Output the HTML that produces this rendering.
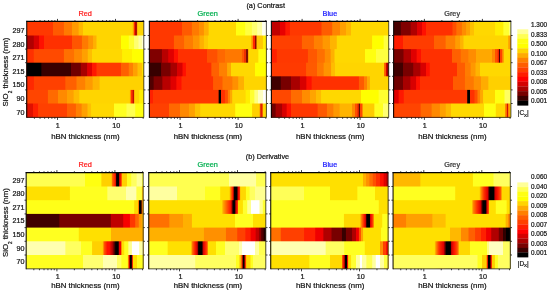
<!DOCTYPE html><html><head><meta charset="utf-8"><title>Contrast and Derivative</title>
<style>html,body{margin:0;padding:0;background:#fff}svg{display:block}text{font-family:"Liberation Sans",sans-serif;font-size:7.2px;color:#151515;fill:currentColor;stroke:currentColor;stroke-width:.22px}.l{font-size:7.85px}.h{font-size:7.3px}.c{font-size:6.4px}</style></head><body>
<svg width="550" height="293" viewBox="0 0 550 293">
<rect width="550" height="293" fill="#fff"/>
<linearGradient id="ga00" gradientUnits="userSpaceOnUse" x1="26.80" y1="0" x2="143.90" y2="0"><stop offset="0.0030" stop-color="#ff3800"/><stop offset="0.2199" stop-color="#ff3800"/><stop offset="0.2259" stop-color="#ff5a00"/><stop offset="0.3130" stop-color="#ff5a00"/><stop offset="0.3190" stop-color="#ff7a00"/><stop offset="0.3830" stop-color="#ff7a00"/><stop offset="0.3890" stop-color="#ff9a00"/><stop offset="0.4394" stop-color="#ff9a00"/><stop offset="0.4453" stop-color="#ffb800"/><stop offset="0.4761" stop-color="#ffb800"/><stop offset="0.4821" stop-color="#ffd500"/><stop offset="0.9014" stop-color="#ffd500"/><stop offset="0.9073" stop-color="#ff9800"/><stop offset="0.9125" stop-color="#ff9800"/><stop offset="0.9184" stop-color="#ff2800"/><stop offset="0.9227" stop-color="#ff2800"/><stop offset="0.9287" stop-color="#b00800"/><stop offset="0.9364" stop-color="#b00800"/><stop offset="0.9421" stop-color="#ffa000"/><stop offset="0.9427" stop-color="#ffa000"/><stop offset="0.9483" stop-color="#ffd500"/><stop offset="0.9970" stop-color="#ffd500"/></linearGradient>
<rect x="26.80" y="21.40" width="117.10" height="96.00" fill="url(#ga00)"/>
<linearGradient id="ga01" gradientUnits="userSpaceOnUse" x1="26.80" y1="0" x2="143.90" y2="0"><stop offset="0.0030" stop-color="#b00000"/><stop offset="0.0559" stop-color="#b00000"/><stop offset="0.0619" stop-color="#d80000"/><stop offset="0.1029" stop-color="#d80000"/><stop offset="0.1089" stop-color="#ff1000"/><stop offset="0.1447" stop-color="#ff1000"/><stop offset="0.1507" stop-color="#ff3000"/><stop offset="0.3830" stop-color="#ff3000"/><stop offset="0.3890" stop-color="#ff5500"/><stop offset="0.4667" stop-color="#ff5500"/><stop offset="0.4727" stop-color="#ff7a00"/><stop offset="0.5222" stop-color="#ff7a00"/><stop offset="0.5282" stop-color="#ff9500"/><stop offset="0.5640" stop-color="#ff9500"/><stop offset="0.5700" stop-color="#ffb000"/><stop offset="0.5922" stop-color="#ffb000"/><stop offset="0.5982" stop-color="#ffd500"/><stop offset="0.8015" stop-color="#ffd500"/><stop offset="0.8074" stop-color="#ffff00"/><stop offset="0.8672" stop-color="#ffff00"/><stop offset="0.8732" stop-color="#ffff30"/><stop offset="0.9142" stop-color="#ffff30"/><stop offset="0.9202" stop-color="#ffff70"/><stop offset="0.9509" stop-color="#ffff70"/><stop offset="0.9569" stop-color="#ffffa0"/><stop offset="0.9791" stop-color="#ffffa0"/><stop offset="0.9851" stop-color="#ffffd0"/><stop offset="0.9970" stop-color="#ffffd0"/></linearGradient>
<rect x="26.80" y="35.50" width="117.10" height="81.90" fill="url(#ga01)"/>
<linearGradient id="ga02" gradientUnits="userSpaceOnUse" x1="26.80" y1="0" x2="143.90" y2="0"><stop offset="0.0030" stop-color="#ff3000"/><stop offset="0.0559" stop-color="#ff3000"/><stop offset="0.0619" stop-color="#ff4a00"/><stop offset="0.3130" stop-color="#ff4a00"/><stop offset="0.3190" stop-color="#ff7000"/><stop offset="0.4018" stop-color="#ff7000"/><stop offset="0.4078" stop-color="#ff8800"/><stop offset="0.4667" stop-color="#ff8800"/><stop offset="0.4727" stop-color="#ffa000"/><stop offset="0.5171" stop-color="#ffa000"/><stop offset="0.5231" stop-color="#ffbe00"/><stop offset="0.5547" stop-color="#ffbe00"/><stop offset="0.5606" stop-color="#ffd800"/><stop offset="0.8117" stop-color="#ffd800"/><stop offset="0.8177" stop-color="#fff000"/><stop offset="0.8954" stop-color="#fff000"/><stop offset="0.9014" stop-color="#ffff00"/><stop offset="0.9970" stop-color="#ffff00"/></linearGradient>
<rect x="26.80" y="49.10" width="117.10" height="68.30" fill="url(#ga02)"/>
<linearGradient id="ga03" gradientUnits="userSpaceOnUse" x1="26.80" y1="0" x2="143.90" y2="0"><stop offset="0.0030" stop-color="#000000"/><stop offset="0.1217" stop-color="#000000"/><stop offset="0.1277" stop-color="#3a0000"/><stop offset="0.3736" stop-color="#3a0000"/><stop offset="0.3796" stop-color="#700000"/><stop offset="0.4573" stop-color="#700000"/><stop offset="0.4633" stop-color="#a80000"/><stop offset="0.5128" stop-color="#a80000"/><stop offset="0.5188" stop-color="#e00000"/><stop offset="0.5547" stop-color="#e00000"/><stop offset="0.5606" stop-color="#ff1800"/><stop offset="0.5922" stop-color="#ff1800"/><stop offset="0.5982" stop-color="#ff3a00"/><stop offset="0.8015" stop-color="#ff3a00"/><stop offset="0.8074" stop-color="#ff6000"/><stop offset="0.8672" stop-color="#ff6000"/><stop offset="0.8732" stop-color="#ff8000"/><stop offset="0.9039" stop-color="#ff8000"/><stop offset="0.9099" stop-color="#ffa000"/><stop offset="0.9424" stop-color="#ffa000"/><stop offset="0.9483" stop-color="#ffc000"/><stop offset="0.9791" stop-color="#ffc000"/><stop offset="0.9851" stop-color="#ffe000"/><stop offset="0.9970" stop-color="#ffe000"/></linearGradient>
<rect x="26.80" y="62.70" width="117.10" height="54.70" fill="url(#ga03)"/>
<linearGradient id="ga04" gradientUnits="userSpaceOnUse" x1="26.80" y1="0" x2="143.90" y2="0"><stop offset="0.0030" stop-color="#ff2800"/><stop offset="0.0568" stop-color="#ff2800"/><stop offset="0.0628" stop-color="#ff4000"/><stop offset="0.3266" stop-color="#ff4000"/><stop offset="0.3326" stop-color="#ff6000"/><stop offset="0.4214" stop-color="#ff6000"/><stop offset="0.4274" stop-color="#ff8000"/><stop offset="0.4966" stop-color="#ff8000"/><stop offset="0.5026" stop-color="#ff9a00"/><stop offset="0.5589" stop-color="#ff9a00"/><stop offset="0.5649" stop-color="#ffb400"/><stop offset="0.6187" stop-color="#ffb400"/><stop offset="0.6247" stop-color="#ffd200"/><stop offset="0.9970" stop-color="#ffd200"/></linearGradient>
<rect x="26.80" y="76.30" width="117.10" height="41.10" fill="url(#ga04)"/>
<linearGradient id="ga05" gradientUnits="userSpaceOnUse" x1="26.80" y1="0" x2="143.90" y2="0"><stop offset="0.0030" stop-color="#ff4500"/><stop offset="0.1763" stop-color="#ff4500"/><stop offset="0.1823" stop-color="#ff6a00"/><stop offset="0.2635" stop-color="#ff6a00"/><stop offset="0.2694" stop-color="#ff8a00"/><stop offset="0.3395" stop-color="#ff8a00"/><stop offset="0.3454" stop-color="#ffa000"/><stop offset="0.3967" stop-color="#ffa000"/><stop offset="0.4026" stop-color="#ffba00"/><stop offset="0.4462" stop-color="#ffba00"/><stop offset="0.4522" stop-color="#ffd500"/><stop offset="0.8766" stop-color="#ffd500"/><stop offset="0.8826" stop-color="#ff9000"/><stop offset="0.8868" stop-color="#ff9000"/><stop offset="0.8928" stop-color="#ff3000"/><stop offset="0.9005" stop-color="#ff3000"/><stop offset="0.9065" stop-color="#c01000"/><stop offset="0.9116" stop-color="#c01000"/><stop offset="0.9169" stop-color="#ffa000"/><stop offset="0.9174" stop-color="#ffa000"/><stop offset="0.9227" stop-color="#ffd500"/><stop offset="0.9577" stop-color="#ffd500"/><stop offset="0.9637" stop-color="#ffee00"/><stop offset="0.9970" stop-color="#ffee00"/></linearGradient>
<rect x="26.80" y="89.90" width="117.10" height="27.50" fill="url(#ga05)"/>
<linearGradient id="ga06" gradientUnits="userSpaceOnUse" x1="26.80" y1="0" x2="143.90" y2="0"><stop offset="0.0030" stop-color="#e01000"/><stop offset="0.0508" stop-color="#e01000"/><stop offset="0.0568" stop-color="#ff2000"/><stop offset="0.0944" stop-color="#ff2000"/><stop offset="0.1003" stop-color="#ff4000"/><stop offset="0.3395" stop-color="#ff4000"/><stop offset="0.3454" stop-color="#ff6000"/><stop offset="0.4155" stop-color="#ff6000"/><stop offset="0.4214" stop-color="#ff8000"/><stop offset="0.4650" stop-color="#ff8000"/><stop offset="0.4710" stop-color="#ffa000"/><stop offset="0.5154" stop-color="#ffa000"/><stop offset="0.5213" stop-color="#ffc000"/><stop offset="0.5470" stop-color="#ffc000"/><stop offset="0.5529" stop-color="#ffd800"/><stop offset="0.7417" stop-color="#ffd800"/><stop offset="0.7477" stop-color="#ffff20"/><stop offset="0.8484" stop-color="#ffff20"/><stop offset="0.8544" stop-color="#ffff50"/><stop offset="0.9236" stop-color="#ffff50"/><stop offset="0.9295" stop-color="#ffff10"/><stop offset="0.9970" stop-color="#ffff10"/></linearGradient>
<rect x="26.80" y="103.50" width="117.10" height="13.90" fill="url(#ga06)"/>
<path d="M26.80 117.40H143.80V21.40" fill="none" stroke="#222" stroke-width="0.8"/>
<path d="M26.75 117.80V20.85" fill="none" stroke="#000" stroke-width="1.0"/>
<path d="M26.30 21.40H144.20" fill="none" stroke="#000" stroke-width="1.15"/>
<path d="M34.42 21.40v-1.40M34.42 117.40v1.40M40.04 21.40v-1.40M40.04 117.40v1.40M44.63 21.40v-1.40M44.63 117.40v1.40M48.52 21.40v-1.40M48.52 117.40v1.40M51.88 21.40v-1.40M51.88 117.40v1.40M54.85 21.40v-1.40M54.85 117.40v1.40M57.50 21.40v-2.50M57.50 117.40v2.50M74.96 21.40v-1.40M74.96 117.40v1.40M85.17 21.40v-1.40M85.17 117.40v1.40M92.42 21.40v-1.40M92.42 117.40v1.40M98.04 21.40v-1.40M98.04 117.40v1.40M102.63 21.40v-1.40M102.63 117.40v1.40M106.52 21.40v-1.40M106.52 117.40v1.40M109.88 21.40v-1.40M109.88 117.40v1.40M112.85 21.40v-1.40M112.85 117.40v1.40M115.50 21.40v-2.50M115.50 117.40v2.50M132.96 21.40v-1.40M132.96 117.40v1.40M143.17 21.40v-1.40M143.17 117.40v1.40M26.80 35.50h-1.7M143.90 35.50h1.6M26.80 49.10h-1.7M143.90 49.10h1.6M26.80 62.70h-1.7M143.90 62.70h1.6M26.80 76.30h-1.7M143.90 76.30h1.6M26.80 89.90h-1.7M143.90 89.90h1.6M26.80 103.50h-1.7M143.90 103.50h1.6" stroke="#111" stroke-width="0.8" fill="none"/>
<text x="57.80" y="128.10" text-anchor="middle" class="t">1</text>
<text x="116.20" y="128.10" text-anchor="middle" class="t">10</text>
<text x="85.35" y="138.60" text-anchor="middle" class="l">hBN thickness (nm)</text>
<text x="85.15" y="16.35" text-anchor="middle" class="h" style="color:#ff1a1a">Red</text>
<text x="24.50" y="33.05" text-anchor="end" class="t">297</text>
<text x="24.50" y="46.65" text-anchor="end" class="t">280</text>
<text x="24.50" y="60.25" text-anchor="end" class="t">271</text>
<text x="24.50" y="73.85" text-anchor="end" class="t">215</text>
<text x="24.50" y="87.45" text-anchor="end" class="t">150</text>
<text x="24.50" y="101.05" text-anchor="end" class="t">90</text>
<text x="24.50" y="114.65" text-anchor="end" class="t">70</text>
<linearGradient id="ga10" gradientUnits="userSpaceOnUse" x1="149.40" y1="0" x2="266.50" y2="0"><stop offset="0.0030" stop-color="#ff3800"/><stop offset="0.2754" stop-color="#ff3800"/><stop offset="0.2814" stop-color="#ff5a00"/><stop offset="0.3591" stop-color="#ff5a00"/><stop offset="0.3651" stop-color="#ff7a00"/><stop offset="0.4197" stop-color="#ff7a00"/><stop offset="0.4257" stop-color="#ff9000"/><stop offset="0.4616" stop-color="#ff9000"/><stop offset="0.4675" stop-color="#ffb000"/><stop offset="0.5026" stop-color="#ffb000"/><stop offset="0.5085" stop-color="#ffd800"/><stop offset="0.7365" stop-color="#ffd800"/><stop offset="0.7425" stop-color="#ffff10"/><stop offset="0.8160" stop-color="#ffff10"/><stop offset="0.8219" stop-color="#ffff40"/><stop offset="0.8715" stop-color="#ffff40"/><stop offset="0.8775" stop-color="#ffff70"/><stop offset="0.9184" stop-color="#ffff70"/><stop offset="0.9244" stop-color="#ffffa0"/><stop offset="0.9603" stop-color="#ffffa0"/><stop offset="0.9663" stop-color="#fffff0"/><stop offset="0.9970" stop-color="#fffff0"/></linearGradient>
<rect x="149.40" y="21.40" width="117.10" height="96.00" fill="url(#ga10)"/>
<linearGradient id="ga11" gradientUnits="userSpaceOnUse" x1="149.40" y1="0" x2="266.50" y2="0"><stop offset="0.0030" stop-color="#ff3800"/><stop offset="0.2054" stop-color="#ff3800"/><stop offset="0.2114" stop-color="#ff6000"/><stop offset="0.2942" stop-color="#ff6000"/><stop offset="0.3002" stop-color="#ff7c00"/><stop offset="0.3685" stop-color="#ff7c00"/><stop offset="0.3745" stop-color="#ff9400"/><stop offset="0.4249" stop-color="#ff9400"/><stop offset="0.4308" stop-color="#ffb000"/><stop offset="0.4616" stop-color="#ffb000"/><stop offset="0.4675" stop-color="#ffc800"/><stop offset="0.4974" stop-color="#ffc800"/><stop offset="0.5034" stop-color="#ffd800"/><stop offset="0.8681" stop-color="#ffd800"/><stop offset="0.8740" stop-color="#ff9000"/><stop offset="0.8817" stop-color="#ff9000"/><stop offset="0.8877" stop-color="#ff2800"/><stop offset="0.8980" stop-color="#ff2800"/><stop offset="0.9039" stop-color="#900800"/><stop offset="0.9116" stop-color="#900800"/><stop offset="0.9176" stop-color="#ffc800"/><stop offset="0.9654" stop-color="#ffc800"/><stop offset="0.9714" stop-color="#ffee00"/><stop offset="0.9970" stop-color="#ffee00"/></linearGradient>
<rect x="149.40" y="35.50" width="117.10" height="81.90" fill="url(#ga11)"/>
<linearGradient id="ga12" gradientUnits="userSpaceOnUse" x1="149.40" y1="0" x2="266.50" y2="0"><stop offset="0.0030" stop-color="#800000"/><stop offset="0.1029" stop-color="#800000"/><stop offset="0.1089" stop-color="#b80000"/><stop offset="0.1584" stop-color="#b80000"/><stop offset="0.1644" stop-color="#e00000"/><stop offset="0.2054" stop-color="#e00000"/><stop offset="0.2114" stop-color="#ff1000"/><stop offset="0.2421" stop-color="#ff1000"/><stop offset="0.2481" stop-color="#ff3000"/><stop offset="0.4889" stop-color="#ff3000"/><stop offset="0.4949" stop-color="#ff5000"/><stop offset="0.5777" stop-color="#ff5000"/><stop offset="0.5837" stop-color="#ff6800"/><stop offset="0.6426" stop-color="#ff6800"/><stop offset="0.6486" stop-color="#ff7800"/><stop offset="0.7861" stop-color="#ff7800"/><stop offset="0.7921" stop-color="#ff5800"/><stop offset="0.8049" stop-color="#ff5800"/><stop offset="0.8108" stop-color="#f03000"/><stop offset="0.8219" stop-color="#f03000"/><stop offset="0.8279" stop-color="#801000"/><stop offset="0.8382" stop-color="#801000"/><stop offset="0.8442" stop-color="#ffb000"/><stop offset="0.8476" stop-color="#ffb000"/><stop offset="0.8535" stop-color="#ffd800"/><stop offset="0.9278" stop-color="#ffd800"/><stop offset="0.9338" stop-color="#ffff10"/><stop offset="0.9970" stop-color="#ffff10"/></linearGradient>
<rect x="149.40" y="49.10" width="117.10" height="68.30" fill="url(#ga12)"/>
<linearGradient id="ga13" gradientUnits="userSpaceOnUse" x1="149.40" y1="0" x2="266.50" y2="0"><stop offset="0.0030" stop-color="#380000"/><stop offset="0.0978" stop-color="#380000"/><stop offset="0.1038" stop-color="#780000"/><stop offset="0.1772" stop-color="#780000"/><stop offset="0.1832" stop-color="#a80000"/><stop offset="0.2327" stop-color="#a80000"/><stop offset="0.2387" stop-color="#d80000"/><stop offset="0.2797" stop-color="#d80000"/><stop offset="0.2857" stop-color="#ff1000"/><stop offset="0.3079" stop-color="#ff1000"/><stop offset="0.3138" stop-color="#ff3000"/><stop offset="0.5265" stop-color="#ff3000"/><stop offset="0.5325" stop-color="#ff6000"/><stop offset="0.5914" stop-color="#ff6000"/><stop offset="0.5974" stop-color="#ff8000"/><stop offset="0.6614" stop-color="#ff8000"/><stop offset="0.6674" stop-color="#ffa800"/><stop offset="0.6939" stop-color="#ffa800"/><stop offset="0.6998" stop-color="#ffd800"/><stop offset="0.8997" stop-color="#ffd800"/><stop offset="0.9056" stop-color="#ffff00"/><stop offset="0.9970" stop-color="#ffff00"/></linearGradient>
<rect x="149.40" y="62.70" width="117.10" height="54.70" fill="url(#ga13)"/>
<linearGradient id="ga14" gradientUnits="userSpaceOnUse" x1="149.40" y1="0" x2="266.50" y2="0"><stop offset="0.0030" stop-color="#500000"/><stop offset="0.0329" stop-color="#500000"/><stop offset="0.0389" stop-color="#800000"/><stop offset="0.1080" stop-color="#800000"/><stop offset="0.1140" stop-color="#b80000"/><stop offset="0.1772" stop-color="#b80000"/><stop offset="0.1832" stop-color="#e00000"/><stop offset="0.2276" stop-color="#e00000"/><stop offset="0.2336" stop-color="#ff1000"/><stop offset="0.2711" stop-color="#ff1000"/><stop offset="0.2771" stop-color="#ff3000"/><stop offset="0.5418" stop-color="#ff3000"/><stop offset="0.5478" stop-color="#ff5a00"/><stop offset="0.6213" stop-color="#ff5a00"/><stop offset="0.6272" stop-color="#ff7800"/><stop offset="0.7058" stop-color="#ff7800"/><stop offset="0.7118" stop-color="#ff9000"/><stop offset="0.7562" stop-color="#ff9000"/><stop offset="0.7622" stop-color="#ffb000"/><stop offset="0.8057" stop-color="#ffb000"/><stop offset="0.8117" stop-color="#ffd500"/><stop offset="0.9970" stop-color="#ffd500"/></linearGradient>
<rect x="149.40" y="76.30" width="117.10" height="41.10" fill="url(#ga14)"/>
<linearGradient id="ga15" gradientUnits="userSpaceOnUse" x1="149.40" y1="0" x2="266.50" y2="0"><stop offset="0.0030" stop-color="#ff2000"/><stop offset="0.0269" stop-color="#ff2000"/><stop offset="0.0329" stop-color="#ff3800"/><stop offset="0.5880" stop-color="#ff3800"/><stop offset="0.5939" stop-color="#000000"/><stop offset="0.6085" stop-color="#000000"/><stop offset="0.6144" stop-color="#ff3000"/><stop offset="0.6409" stop-color="#ff3000"/><stop offset="0.6469" stop-color="#ff5000"/><stop offset="0.6665" stop-color="#ff5000"/><stop offset="0.6725" stop-color="#ff8000"/><stop offset="0.6853" stop-color="#ff8000"/><stop offset="0.6913" stop-color="#ffa800"/><stop offset="0.7050" stop-color="#ffa800"/><stop offset="0.7109" stop-color="#ffd800"/><stop offset="0.8185" stop-color="#ffd800"/><stop offset="0.8245" stop-color="#ffee00"/><stop offset="0.8561" stop-color="#ffee00"/><stop offset="0.8621" stop-color="#ffff30"/><stop offset="0.8937" stop-color="#ffff30"/><stop offset="0.8997" stop-color="#ffff80"/><stop offset="0.9244" stop-color="#ffff80"/><stop offset="0.9304" stop-color="#ffffc0"/><stop offset="0.9688" stop-color="#ffffc0"/><stop offset="0.9748" stop-color="#ffffff"/><stop offset="0.9970" stop-color="#ffffff"/></linearGradient>
<rect x="149.40" y="89.90" width="117.10" height="27.50" fill="url(#ga15)"/>
<linearGradient id="ga16" gradientUnits="userSpaceOnUse" x1="149.40" y1="0" x2="266.50" y2="0"><stop offset="0.0030" stop-color="#ff4000"/><stop offset="0.1644" stop-color="#ff4000"/><stop offset="0.1704" stop-color="#ff6800"/><stop offset="0.2583" stop-color="#ff6800"/><stop offset="0.2643" stop-color="#ff8800"/><stop offset="0.3343" stop-color="#ff8800"/><stop offset="0.3403" stop-color="#ffa000"/><stop offset="0.3847" stop-color="#ffa000"/><stop offset="0.3907" stop-color="#ffc000"/><stop offset="0.4317" stop-color="#ffc000"/><stop offset="0.4377" stop-color="#ffd800"/><stop offset="0.7306" stop-color="#ffd800"/><stop offset="0.7365" stop-color="#ffff10"/><stop offset="0.8749" stop-color="#ffff10"/><stop offset="0.8809" stop-color="#ffd000"/><stop offset="0.9381" stop-color="#ffd000"/><stop offset="0.9441" stop-color="#ff8000"/><stop offset="0.9449" stop-color="#ff8000"/><stop offset="0.9509" stop-color="#e02000"/><stop offset="0.9629" stop-color="#e02000"/><stop offset="0.9681" stop-color="#ff9000"/><stop offset="0.9687" stop-color="#ff9000"/><stop offset="0.9740" stop-color="#ffd800"/><stop offset="0.9970" stop-color="#ffd800"/></linearGradient>
<rect x="149.40" y="103.50" width="117.10" height="13.90" fill="url(#ga16)"/>
<path d="M149.40 117.40H266.40V21.40" fill="none" stroke="#222" stroke-width="0.8"/>
<path d="M149.35 117.80V20.85" fill="none" stroke="#000" stroke-width="1.0"/>
<path d="M148.90 21.40H266.80" fill="none" stroke="#000" stroke-width="1.15"/>
<path d="M157.02 21.40v-1.40M157.02 117.40v1.40M162.64 21.40v-1.40M162.64 117.40v1.40M167.23 21.40v-1.40M167.23 117.40v1.40M171.12 21.40v-1.40M171.12 117.40v1.40M174.48 21.40v-1.40M174.48 117.40v1.40M177.45 21.40v-1.40M177.45 117.40v1.40M180.10 21.40v-2.50M180.10 117.40v2.50M197.56 21.40v-1.40M197.56 117.40v1.40M207.77 21.40v-1.40M207.77 117.40v1.40M215.02 21.40v-1.40M215.02 117.40v1.40M220.64 21.40v-1.40M220.64 117.40v1.40M225.23 21.40v-1.40M225.23 117.40v1.40M229.12 21.40v-1.40M229.12 117.40v1.40M232.48 21.40v-1.40M232.48 117.40v1.40M235.45 21.40v-1.40M235.45 117.40v1.40M238.10 21.40v-2.50M238.10 117.40v2.50M255.56 21.40v-1.40M255.56 117.40v1.40M265.77 21.40v-1.40M265.77 117.40v1.40M149.40 35.50h-1.7M266.50 35.50h1.6M149.40 49.10h-1.7M266.50 49.10h1.6M149.40 62.70h-1.7M266.50 62.70h1.6M149.40 76.30h-1.7M266.50 76.30h1.6M149.40 89.90h-1.7M266.50 89.90h1.6M149.40 103.50h-1.7M266.50 103.50h1.6" stroke="#111" stroke-width="0.8" fill="none"/>
<text x="180.40" y="128.10" text-anchor="middle" class="t">1</text>
<text x="238.80" y="128.10" text-anchor="middle" class="t">10</text>
<text x="207.95" y="138.60" text-anchor="middle" class="l">hBN thickness (nm)</text>
<text x="207.75" y="16.35" text-anchor="middle" class="h" style="color:#00b050">Green</text>
<linearGradient id="ga20" gradientUnits="userSpaceOnUse" x1="271.40" y1="0" x2="388.80" y2="0"><stop offset="0.0030" stop-color="#c00000"/><stop offset="0.0694" stop-color="#c00000"/><stop offset="0.0754" stop-color="#e80000"/><stop offset="0.1163" stop-color="#e80000"/><stop offset="0.1222" stop-color="#ff1800"/><stop offset="0.1537" stop-color="#ff1800"/><stop offset="0.1597" stop-color="#ff3800"/><stop offset="0.4238" stop-color="#ff3800"/><stop offset="0.4297" stop-color="#ff5c00"/><stop offset="0.5158" stop-color="#ff5c00"/><stop offset="0.5217" stop-color="#ff8400"/><stop offset="0.5805" stop-color="#ff8400"/><stop offset="0.5865" stop-color="#ffa000"/><stop offset="0.6316" stop-color="#ffa000"/><stop offset="0.6376" stop-color="#ffb800"/><stop offset="0.6742" stop-color="#ffb800"/><stop offset="0.6802" stop-color="#ffd800"/><stop offset="0.9970" stop-color="#ffd800"/></linearGradient>
<rect x="271.40" y="21.40" width="117.40" height="96.00" fill="url(#ga20)"/>
<linearGradient id="ga21" gradientUnits="userSpaceOnUse" x1="271.40" y1="0" x2="388.80" y2="0"><stop offset="0.0030" stop-color="#ff4000"/><stop offset="0.2560" stop-color="#ff4000"/><stop offset="0.2619" stop-color="#ff6400"/><stop offset="0.3582" stop-color="#ff6400"/><stop offset="0.3641" stop-color="#ff8000"/><stop offset="0.4331" stop-color="#ff8000"/><stop offset="0.4391" stop-color="#ff9800"/><stop offset="0.4962" stop-color="#ff9800"/><stop offset="0.5021" stop-color="#ffb400"/><stop offset="0.5532" stop-color="#ffb400"/><stop offset="0.5592" stop-color="#ffd800"/><stop offset="0.8556" stop-color="#ffd800"/><stop offset="0.8616" stop-color="#ffff00"/><stop offset="0.9527" stop-color="#ffff00"/><stop offset="0.9587" stop-color="#ffff40"/><stop offset="0.9970" stop-color="#ffff40"/></linearGradient>
<rect x="271.40" y="35.50" width="117.40" height="81.90" fill="url(#ga21)"/>
<linearGradient id="ga22" gradientUnits="userSpaceOnUse" x1="271.40" y1="0" x2="388.80" y2="0"><stop offset="0.0030" stop-color="#ff2000"/><stop offset="0.0422" stop-color="#ff2000"/><stop offset="0.0481" stop-color="#ff3800"/><stop offset="0.3071" stop-color="#ff3800"/><stop offset="0.3130" stop-color="#ff5800"/><stop offset="0.3863" stop-color="#ff5800"/><stop offset="0.3922" stop-color="#ff7000"/><stop offset="0.4510" stop-color="#ff7000"/><stop offset="0.4570" stop-color="#ff8c00"/><stop offset="0.5013" stop-color="#ff8c00"/><stop offset="0.5072" stop-color="#ffb000"/><stop offset="0.5345" stop-color="#ffb000"/><stop offset="0.5405" stop-color="#ffd800"/><stop offset="0.7943" stop-color="#ffd800"/><stop offset="0.8003" stop-color="#ffff10"/><stop offset="0.8880" stop-color="#ffff10"/><stop offset="0.8940" stop-color="#ffff40"/><stop offset="0.9970" stop-color="#ffff40"/></linearGradient>
<rect x="271.40" y="49.10" width="117.40" height="68.30" fill="url(#ga22)"/>
<linearGradient id="ga23" gradientUnits="userSpaceOnUse" x1="271.40" y1="0" x2="388.80" y2="0"><stop offset="0.0030" stop-color="#ff3a00"/><stop offset="0.2934" stop-color="#ff3a00"/><stop offset="0.2994" stop-color="#ff5a00"/><stop offset="0.3863" stop-color="#ff5a00"/><stop offset="0.3922" stop-color="#ff7800"/><stop offset="0.4417" stop-color="#ff7800"/><stop offset="0.4476" stop-color="#ff9400"/><stop offset="0.5064" stop-color="#ff9400"/><stop offset="0.5124" stop-color="#ffbc00"/><stop offset="0.5388" stop-color="#ffbc00"/><stop offset="0.5447" stop-color="#ffd500"/><stop offset="0.9578" stop-color="#ffd500"/><stop offset="0.9638" stop-color="#ff6000"/><stop offset="0.9715" stop-color="#ff6000"/><stop offset="0.9774" stop-color="#d00000"/><stop offset="0.9859" stop-color="#d00000"/><stop offset="0.9919" stop-color="#600000"/><stop offset="0.9970" stop-color="#600000"/></linearGradient>
<rect x="271.40" y="62.70" width="117.40" height="54.70" fill="url(#ga23)"/>
<linearGradient id="ga24" gradientUnits="userSpaceOnUse" x1="271.40" y1="0" x2="388.80" y2="0"><stop offset="0.0030" stop-color="#400000"/><stop offset="0.0762" stop-color="#400000"/><stop offset="0.0822" stop-color="#780000"/><stop offset="0.1640" stop-color="#780000"/><stop offset="0.1699" stop-color="#a80000"/><stop offset="0.2389" stop-color="#a80000"/><stop offset="0.2449" stop-color="#d80000"/><stop offset="0.2951" stop-color="#d80000"/><stop offset="0.3011" stop-color="#ff1000"/><stop offset="0.3394" stop-color="#ff1000"/><stop offset="0.3454" stop-color="#ff3000"/><stop offset="0.7415" stop-color="#ff3000"/><stop offset="0.7474" stop-color="#ff5a00"/><stop offset="0.7849" stop-color="#ff5a00"/><stop offset="0.7909" stop-color="#ff8000"/><stop offset="0.8105" stop-color="#ff8000"/><stop offset="0.8164" stop-color="#ffaa00"/><stop offset="0.8352" stop-color="#ffaa00"/><stop offset="0.8411" stop-color="#ffd500"/><stop offset="0.9970" stop-color="#ffd500"/></linearGradient>
<rect x="271.40" y="76.30" width="117.40" height="41.10" fill="url(#ga24)"/>
<linearGradient id="ga25" gradientUnits="userSpaceOnUse" x1="271.40" y1="0" x2="388.80" y2="0"><stop offset="0.0030" stop-color="#ff4800"/><stop offset="0.1640" stop-color="#ff4800"/><stop offset="0.1699" stop-color="#ff6c00"/><stop offset="0.2577" stop-color="#ff6c00"/><stop offset="0.2636" stop-color="#ff8c00"/><stop offset="0.3267" stop-color="#ff8c00"/><stop offset="0.3326" stop-color="#ffa400"/><stop offset="0.3769" stop-color="#ffa400"/><stop offset="0.3829" stop-color="#ffbc00"/><stop offset="0.4212" stop-color="#ffbc00"/><stop offset="0.4272" stop-color="#ffd800"/><stop offset="0.7602" stop-color="#ffd800"/><stop offset="0.7662" stop-color="#ffff00"/><stop offset="0.9101" stop-color="#ffff00"/><stop offset="0.9161" stop-color="#ffff30"/><stop offset="0.9970" stop-color="#ffff30"/></linearGradient>
<rect x="271.40" y="89.90" width="117.40" height="27.50" fill="url(#ga25)"/>
<linearGradient id="ga26" gradientUnits="userSpaceOnUse" x1="271.40" y1="0" x2="388.80" y2="0"><stop offset="0.0030" stop-color="#700000"/><stop offset="0.0328" stop-color="#700000"/><stop offset="0.0388" stop-color="#a80000"/><stop offset="0.0890" stop-color="#a80000"/><stop offset="0.0950" stop-color="#d80000"/><stop offset="0.1265" stop-color="#d80000"/><stop offset="0.1325" stop-color="#ff1000"/><stop offset="0.1640" stop-color="#ff1000"/><stop offset="0.1699" stop-color="#ff3800"/><stop offset="0.3905" stop-color="#ff3800"/><stop offset="0.3965" stop-color="#ff5a00"/><stop offset="0.4689" stop-color="#ff5a00"/><stop offset="0.4749" stop-color="#ff7c00"/><stop offset="0.5251" stop-color="#ff7c00"/><stop offset="0.5311" stop-color="#ff9800"/><stop offset="0.5779" stop-color="#ff9800"/><stop offset="0.5839" stop-color="#ffb400"/><stop offset="0.6853" stop-color="#ffb400"/><stop offset="0.6912" stop-color="#ff8800"/><stop offset="0.7091" stop-color="#ff8800"/><stop offset="0.7151" stop-color="#ff5000"/><stop offset="0.7304" stop-color="#ff5000"/><stop offset="0.7364" stop-color="#e02000"/><stop offset="0.7415" stop-color="#e02000"/><stop offset="0.7474" stop-color="#581000"/><stop offset="0.7526" stop-color="#581000"/><stop offset="0.7585" stop-color="#ff4800"/><stop offset="0.7730" stop-color="#ff4800"/><stop offset="0.7790" stop-color="#ffcc00"/><stop offset="0.8744" stop-color="#ffcc00"/><stop offset="0.8803" stop-color="#ffff20"/><stop offset="0.9476" stop-color="#ffff20"/><stop offset="0.9536" stop-color="#ffff70"/><stop offset="0.9970" stop-color="#ffff70"/></linearGradient>
<rect x="271.40" y="103.50" width="117.40" height="13.90" fill="url(#ga26)"/>
<path d="M271.40 117.40H388.70V21.40" fill="none" stroke="#222" stroke-width="0.8"/>
<path d="M271.35 117.80V20.85" fill="none" stroke="#000" stroke-width="1.0"/>
<path d="M270.90 21.40H389.10" fill="none" stroke="#000" stroke-width="1.15"/>
<path d="M279.02 21.40v-1.40M279.02 117.40v1.40M284.64 21.40v-1.40M284.64 117.40v1.40M289.23 21.40v-1.40M289.23 117.40v1.40M293.12 21.40v-1.40M293.12 117.40v1.40M296.48 21.40v-1.40M296.48 117.40v1.40M299.45 21.40v-1.40M299.45 117.40v1.40M302.10 21.40v-2.50M302.10 117.40v2.50M319.56 21.40v-1.40M319.56 117.40v1.40M329.77 21.40v-1.40M329.77 117.40v1.40M337.02 21.40v-1.40M337.02 117.40v1.40M342.64 21.40v-1.40M342.64 117.40v1.40M347.23 21.40v-1.40M347.23 117.40v1.40M351.12 21.40v-1.40M351.12 117.40v1.40M354.48 21.40v-1.40M354.48 117.40v1.40M357.45 21.40v-1.40M357.45 117.40v1.40M360.10 21.40v-2.50M360.10 117.40v2.50M377.56 21.40v-1.40M377.56 117.40v1.40M387.77 21.40v-1.40M387.77 117.40v1.40M271.40 35.50h-1.7M388.80 35.50h1.6M271.40 49.10h-1.7M388.80 49.10h1.6M271.40 62.70h-1.7M388.80 62.70h1.6M271.40 76.30h-1.7M388.80 76.30h1.6M271.40 89.90h-1.7M388.80 89.90h1.6M271.40 103.50h-1.7M388.80 103.50h1.6" stroke="#111" stroke-width="0.8" fill="none"/>
<text x="302.40" y="128.10" text-anchor="middle" class="t">1</text>
<text x="360.80" y="128.10" text-anchor="middle" class="t">10</text>
<text x="330.10" y="138.60" text-anchor="middle" class="l">hBN thickness (nm)</text>
<text x="329.90" y="16.35" text-anchor="middle" class="h" style="color:#1a1aff">Blue</text>
<linearGradient id="ga30" gradientUnits="userSpaceOnUse" x1="393.70" y1="0" x2="511.00" y2="0"><stop offset="0.0030" stop-color="#480000"/><stop offset="0.0567" stop-color="#480000"/><stop offset="0.0627" stop-color="#800000"/><stop offset="0.1411" stop-color="#800000"/><stop offset="0.1471" stop-color="#b00000"/><stop offset="0.1965" stop-color="#b00000"/><stop offset="0.2025" stop-color="#e00000"/><stop offset="0.2383" stop-color="#e00000"/><stop offset="0.2442" stop-color="#ff1000"/><stop offset="0.2715" stop-color="#ff1000"/><stop offset="0.2775" stop-color="#ff3000"/><stop offset="0.4983" stop-color="#ff3000"/><stop offset="0.5043" stop-color="#ff5000"/><stop offset="0.5315" stop-color="#ff5000"/><stop offset="0.5375" stop-color="#ff7000"/><stop offset="0.5776" stop-color="#ff7000"/><stop offset="0.5835" stop-color="#ff8c00"/><stop offset="0.6151" stop-color="#ff8c00"/><stop offset="0.6211" stop-color="#ffa400"/><stop offset="0.6475" stop-color="#ffa400"/><stop offset="0.6535" stop-color="#ffc000"/><stop offset="0.6807" stop-color="#ffc000"/><stop offset="0.6867" stop-color="#ffd800"/><stop offset="0.8623" stop-color="#ffd800"/><stop offset="0.8683" stop-color="#ffee00"/><stop offset="0.9322" stop-color="#ffee00"/><stop offset="0.9382" stop-color="#ffff30"/><stop offset="0.9783" stop-color="#ffff30"/><stop offset="0.9842" stop-color="#ffff70"/><stop offset="0.9970" stop-color="#ffff70"/></linearGradient>
<rect x="393.70" y="21.40" width="117.30" height="96.00" fill="url(#ga30)"/>
<linearGradient id="ga31" gradientUnits="userSpaceOnUse" x1="393.70" y1="0" x2="511.00" y2="0"><stop offset="0.0030" stop-color="#ff1c00"/><stop offset="0.0754" stop-color="#ff1c00"/><stop offset="0.0814" stop-color="#ff3c00"/><stop offset="0.3414" stop-color="#ff3c00"/><stop offset="0.3474" stop-color="#ff6000"/><stop offset="0.4395" stop-color="#ff6000"/><stop offset="0.4454" stop-color="#ff8000"/><stop offset="0.5222" stop-color="#ff8000"/><stop offset="0.5281" stop-color="#ff9c00"/><stop offset="0.5639" stop-color="#ff9c00"/><stop offset="0.5699" stop-color="#ffb400"/><stop offset="0.5921" stop-color="#ffb400"/><stop offset="0.5980" stop-color="#ffd500"/><stop offset="0.9740" stop-color="#ffd500"/><stop offset="0.9800" stop-color="#ffa000"/><stop offset="0.9970" stop-color="#ffa000"/></linearGradient>
<rect x="393.70" y="35.50" width="117.30" height="81.90" fill="url(#ga31)"/>
<linearGradient id="ga32" gradientUnits="userSpaceOnUse" x1="393.70" y1="0" x2="511.00" y2="0"><stop offset="0.0030" stop-color="#780000"/><stop offset="0.0806" stop-color="#780000"/><stop offset="0.0865" stop-color="#b00000"/><stop offset="0.1454" stop-color="#b00000"/><stop offset="0.1513" stop-color="#e00000"/><stop offset="0.1922" stop-color="#e00000"/><stop offset="0.1982" stop-color="#ff1000"/><stop offset="0.2298" stop-color="#ff1000"/><stop offset="0.2357" stop-color="#ff3000"/><stop offset="0.4940" stop-color="#ff3000"/><stop offset="0.5000" stop-color="#ff6000"/><stop offset="0.5682" stop-color="#ff6000"/><stop offset="0.5742" stop-color="#ff7800"/><stop offset="0.6338" stop-color="#ff7800"/><stop offset="0.6398" stop-color="#ff8c00"/><stop offset="0.6986" stop-color="#ff8c00"/><stop offset="0.7046" stop-color="#ffa800"/><stop offset="0.8342" stop-color="#ffa800"/><stop offset="0.8402" stop-color="#ff8800"/><stop offset="0.8598" stop-color="#ff8800"/><stop offset="0.8657" stop-color="#ff5000"/><stop offset="0.8828" stop-color="#ff5000"/><stop offset="0.8887" stop-color="#f02000"/><stop offset="0.8939" stop-color="#f02000"/><stop offset="0.8998" stop-color="#500000"/><stop offset="0.9032" stop-color="#500000"/><stop offset="0.9092" stop-color="#ff4000"/><stop offset="0.9211" stop-color="#ff4000"/><stop offset="0.9271" stop-color="#ff8000"/><stop offset="0.9339" stop-color="#ff8000"/><stop offset="0.9399" stop-color="#ffd800"/><stop offset="0.9970" stop-color="#ffd800"/></linearGradient>
<rect x="393.70" y="49.10" width="117.30" height="68.30" fill="url(#ga32)"/>
<linearGradient id="ga33" gradientUnits="userSpaceOnUse" x1="393.70" y1="0" x2="511.00" y2="0"><stop offset="0.0030" stop-color="#400000"/><stop offset="0.0754" stop-color="#400000"/><stop offset="0.0814" stop-color="#780000"/><stop offset="0.1641" stop-color="#780000"/><stop offset="0.1701" stop-color="#a80000"/><stop offset="0.2246" stop-color="#a80000"/><stop offset="0.2306" stop-color="#d80000"/><stop offset="0.2715" stop-color="#d80000"/><stop offset="0.2775" stop-color="#ff1000"/><stop offset="0.3039" stop-color="#ff1000"/><stop offset="0.3099" stop-color="#ff3000"/><stop offset="0.5358" stop-color="#ff3000"/><stop offset="0.5418" stop-color="#ff5c00"/><stop offset="0.6057" stop-color="#ff5c00"/><stop offset="0.6117" stop-color="#ff7c00"/><stop offset="0.6526" stop-color="#ff7c00"/><stop offset="0.6586" stop-color="#ff9800"/><stop offset="0.6944" stop-color="#ff9800"/><stop offset="0.7003" stop-color="#ffb400"/><stop offset="0.7319" stop-color="#ffb400"/><stop offset="0.7379" stop-color="#ffd800"/><stop offset="0.9970" stop-color="#ffd800"/></linearGradient>
<rect x="393.70" y="62.70" width="117.30" height="54.70" fill="url(#ga33)"/>
<linearGradient id="ga34" gradientUnits="userSpaceOnUse" x1="393.70" y1="0" x2="511.00" y2="0"><stop offset="0.0030" stop-color="#700000"/><stop offset="0.0763" stop-color="#700000"/><stop offset="0.0823" stop-color="#a80000"/><stop offset="0.1394" stop-color="#a80000"/><stop offset="0.1454" stop-color="#d80000"/><stop offset="0.1888" stop-color="#d80000"/><stop offset="0.1948" stop-color="#ff1000"/><stop offset="0.2204" stop-color="#ff1000"/><stop offset="0.2263" stop-color="#ff3000"/><stop offset="0.5026" stop-color="#ff3000"/><stop offset="0.5085" stop-color="#ff5c00"/><stop offset="0.6032" stop-color="#ff5c00"/><stop offset="0.6091" stop-color="#ff7800"/><stop offset="0.6790" stop-color="#ff7800"/><stop offset="0.6850" stop-color="#ff9000"/><stop offset="0.7413" stop-color="#ff9000"/><stop offset="0.7472" stop-color="#ffac00"/><stop offset="0.8043" stop-color="#ffac00"/><stop offset="0.8103" stop-color="#ffd000"/><stop offset="0.9970" stop-color="#ffd000"/></linearGradient>
<rect x="393.70" y="76.30" width="117.30" height="41.10" fill="url(#ga34)"/>
<linearGradient id="ga35" gradientUnits="userSpaceOnUse" x1="393.70" y1="0" x2="511.00" y2="0"><stop offset="0.0030" stop-color="#e00000"/><stop offset="0.0388" stop-color="#e00000"/><stop offset="0.0448" stop-color="#ff1800"/><stop offset="0.0823" stop-color="#ff1800"/><stop offset="0.0882" stop-color="#ff3800"/><stop offset="0.6245" stop-color="#ff3800"/><stop offset="0.6304" stop-color="#000000"/><stop offset="0.6475" stop-color="#000000"/><stop offset="0.6535" stop-color="#ff3000"/><stop offset="0.6858" stop-color="#ff3000"/><stop offset="0.6918" stop-color="#ff5000"/><stop offset="0.7114" stop-color="#ff5000"/><stop offset="0.7174" stop-color="#ff8000"/><stop offset="0.7344" stop-color="#ff8000"/><stop offset="0.7404" stop-color="#ffa800"/><stop offset="0.7600" stop-color="#ffa800"/><stop offset="0.7660" stop-color="#ffd800"/><stop offset="0.8606" stop-color="#ffd800"/><stop offset="0.8666" stop-color="#ffff10"/><stop offset="0.9416" stop-color="#ffff10"/><stop offset="0.9476" stop-color="#ffff60"/><stop offset="0.9970" stop-color="#ffff60"/></linearGradient>
<rect x="393.70" y="89.90" width="117.30" height="27.50" fill="url(#ga35)"/>
<linearGradient id="ga36" gradientUnits="userSpaceOnUse" x1="393.70" y1="0" x2="511.00" y2="0"><stop offset="0.0030" stop-color="#ff4400"/><stop offset="0.2263" stop-color="#ff4400"/><stop offset="0.2323" stop-color="#ff6800"/><stop offset="0.3201" stop-color="#ff6800"/><stop offset="0.3261" stop-color="#ff8800"/><stop offset="0.3900" stop-color="#ff8800"/><stop offset="0.3960" stop-color="#ffa000"/><stop offset="0.4403" stop-color="#ffa000"/><stop offset="0.4463" stop-color="#ffb800"/><stop offset="0.4847" stop-color="#ffb800"/><stop offset="0.4906" stop-color="#ffd800"/><stop offset="0.7668" stop-color="#ffd800"/><stop offset="0.7728" stop-color="#ffff10"/><stop offset="0.8666" stop-color="#ffff10"/><stop offset="0.8725" stop-color="#ffd800"/><stop offset="0.9484" stop-color="#ffd800"/><stop offset="0.9544" stop-color="#ff7000"/><stop offset="0.9612" stop-color="#ff7000"/><stop offset="0.9672" stop-color="#d01000"/><stop offset="0.9731" stop-color="#d01000"/><stop offset="0.9791" stop-color="#ff9000"/><stop offset="0.9859" stop-color="#ff9000"/><stop offset="0.9919" stop-color="#ffd800"/><stop offset="0.9970" stop-color="#ffd800"/></linearGradient>
<rect x="393.70" y="103.50" width="117.30" height="13.90" fill="url(#ga36)"/>
<path d="M393.70 117.40H510.90V21.40" fill="none" stroke="#222" stroke-width="0.8"/>
<path d="M393.65 117.80V20.85" fill="none" stroke="#000" stroke-width="1.0"/>
<path d="M393.20 21.40H511.30" fill="none" stroke="#000" stroke-width="1.15"/>
<path d="M401.32 21.40v-1.40M401.32 117.40v1.40M406.94 21.40v-1.40M406.94 117.40v1.40M411.53 21.40v-1.40M411.53 117.40v1.40M415.42 21.40v-1.40M415.42 117.40v1.40M418.78 21.40v-1.40M418.78 117.40v1.40M421.75 21.40v-1.40M421.75 117.40v1.40M424.40 21.40v-2.50M424.40 117.40v2.50M441.86 21.40v-1.40M441.86 117.40v1.40M452.07 21.40v-1.40M452.07 117.40v1.40M459.32 21.40v-1.40M459.32 117.40v1.40M464.94 21.40v-1.40M464.94 117.40v1.40M469.53 21.40v-1.40M469.53 117.40v1.40M473.42 21.40v-1.40M473.42 117.40v1.40M476.78 21.40v-1.40M476.78 117.40v1.40M479.75 21.40v-1.40M479.75 117.40v1.40M482.40 21.40v-2.50M482.40 117.40v2.50M499.86 21.40v-1.40M499.86 117.40v1.40M510.07 21.40v-1.40M510.07 117.40v1.40M393.70 35.50h-1.7M511.00 35.50h1.6M393.70 49.10h-1.7M511.00 49.10h1.6M393.70 62.70h-1.7M511.00 62.70h1.6M393.70 76.30h-1.7M511.00 76.30h1.6M393.70 89.90h-1.7M511.00 89.90h1.6M393.70 103.50h-1.7M511.00 103.50h1.6" stroke="#111" stroke-width="0.8" fill="none"/>
<text x="424.70" y="128.10" text-anchor="middle" class="t">1</text>
<text x="483.10" y="128.10" text-anchor="middle" class="t">10</text>
<text x="452.35" y="138.60" text-anchor="middle" class="l">hBN thickness (nm)</text>
<text x="452.15" y="16.35" text-anchor="middle" class="h" style="color:#333">Grey</text>
<text x="265.7" y="8.30" text-anchor="middle" class="h">(a) Contrast</text>
<text transform="translate(8.4 72.00) rotate(-90)" text-anchor="middle" class="l">SiO<tspan dy="3.2" style="font-size:4.6px">2</tspan><tspan dy="-3.2"> thickness (nm)</tspan></text>
<g>
<rect x="517.30" y="29.30" width="11.00" height="4.96" fill="#ffff99"/>
<rect x="517.30" y="34.06" width="11.00" height="4.96" fill="#ffff53"/>
<rect x="517.30" y="38.81" width="11.00" height="4.96" fill="#ffff13"/>
<rect x="517.30" y="43.57" width="11.00" height="4.96" fill="#ffff00"/>
<rect x="517.30" y="48.33" width="11.00" height="4.96" fill="#ffd400"/>
<rect x="517.30" y="53.08" width="11.00" height="4.96" fill="#ffaa00"/>
<rect x="517.30" y="57.84" width="11.00" height="4.96" fill="#ff8000"/>
<rect x="517.30" y="62.59" width="11.00" height="4.96" fill="#ff5d00"/>
<rect x="517.30" y="67.35" width="11.00" height="4.96" fill="#ff4000"/>
<rect x="517.30" y="72.11" width="11.00" height="4.96" fill="#ff1e00"/>
<rect x="517.30" y="76.86" width="11.00" height="4.96" fill="#ff0000"/>
<rect x="517.30" y="81.62" width="11.00" height="4.96" fill="#d40000"/>
<rect x="517.30" y="86.38" width="11.00" height="4.96" fill="#aa0000"/>
<rect x="517.30" y="91.13" width="11.00" height="4.96" fill="#770000"/>
<rect x="517.30" y="95.89" width="11.00" height="4.96" fill="#3b0000"/>
<rect x="517.30" y="100.64" width="11.00" height="4.96" fill="#000000"/>
</g>
<text x="531.0" y="27.45" class="c">1.300</text>
<text x="531.0" y="36.94" class="c">0.833</text>
<text x="531.0" y="46.44" class="c">0.500</text>
<text x="531.0" y="55.93" class="c">0.100</text>
<text x="531.0" y="65.42" class="c">0.067</text>
<text x="531.0" y="74.92" class="c">0.033</text>
<text x="531.0" y="84.41" class="c">0.008</text>
<text x="531.0" y="93.91" class="c">0.005</text>
<text x="531.0" y="103.40" class="c">0.001</text>
<text x="517.8" y="115.40" class="c">|C<tspan dy="1.3" style="font-size:4.4px">X</tspan><tspan dy="-1.3">|</tspan></text>
<linearGradient id="gb00" gradientUnits="userSpaceOnUse" x1="26.20" y1="0" x2="143.30" y2="0"><stop offset="0.0030" stop-color="#ffff50"/><stop offset="0.4991" stop-color="#ffff50"/><stop offset="0.5051" stop-color="#ffff10"/><stop offset="0.6392" stop-color="#ffff10"/><stop offset="0.6452" stop-color="#ffd000"/><stop offset="0.7237" stop-color="#ffd000"/><stop offset="0.7267" stop-color="#ffd000"/><stop offset="0.7378" stop-color="#ff6000"/><stop offset="0.7378" stop-color="#ff6000"/><stop offset="0.7617" stop-color="#ff1800"/><stop offset="0.7617" stop-color="#ff1800"/><stop offset="0.7694" stop-color="#400000"/><stop offset="0.7724" stop-color="#000000"/><stop offset="0.7878" stop-color="#000000"/><stop offset="0.7908" stop-color="#000000"/><stop offset="0.7968" stop-color="#d00000"/><stop offset="0.7968" stop-color="#d00000"/><stop offset="0.8121" stop-color="#ff3000"/><stop offset="0.8121" stop-color="#ff3000"/><stop offset="0.8181" stop-color="#ffc000"/><stop offset="0.8211" stop-color="#ffd000"/><stop offset="0.8561" stop-color="#ffd000"/><stop offset="0.8621" stop-color="#ffff20"/><stop offset="0.8945" stop-color="#ffff20"/><stop offset="0.9005" stop-color="#ffff60"/><stop offset="0.9398" stop-color="#ffff60"/><stop offset="0.9458" stop-color="#ffff98"/><stop offset="0.9859" stop-color="#ffff98"/><stop offset="0.9919" stop-color="#ffff40"/><stop offset="0.9970" stop-color="#ffff40"/></linearGradient>
<rect x="26.20" y="172.60" width="117.10" height="96.25" fill="url(#gb00)"/>
<linearGradient id="gb01" gradientUnits="userSpaceOnUse" x1="26.20" y1="0" x2="143.30" y2="0"><stop offset="0.0030" stop-color="#ffe000"/><stop offset="0.3693" stop-color="#ffe000"/><stop offset="0.3753" stop-color="#ffff20"/><stop offset="0.6904" stop-color="#ffff20"/><stop offset="0.6964" stop-color="#ffff70"/><stop offset="0.8493" stop-color="#ffff70"/><stop offset="0.8553" stop-color="#ffffb0"/><stop offset="0.9381" stop-color="#ffffb0"/><stop offset="0.9441" stop-color="#ffff40"/><stop offset="0.9842" stop-color="#ffff40"/><stop offset="0.9902" stop-color="#ffc000"/><stop offset="0.9970" stop-color="#ffc000"/></linearGradient>
<rect x="26.20" y="186.50" width="117.10" height="82.35" fill="url(#gb01)"/>
<linearGradient id="gb02" gradientUnits="userSpaceOnUse" x1="26.20" y1="0" x2="143.30" y2="0"><stop offset="0.0030" stop-color="#ffff18"/><stop offset="0.9202" stop-color="#ffff18"/><stop offset="0.9261" stop-color="#ffd800"/><stop offset="0.9492" stop-color="#ffd800"/><stop offset="0.9522" stop-color="#ffd800"/><stop offset="0.9633" stop-color="#ff4000"/><stop offset="0.9663" stop-color="#000000"/><stop offset="0.9774" stop-color="#000000"/><stop offset="0.9804" stop-color="#000000"/><stop offset="0.9906" stop-color="#ff4000"/><stop offset="0.9936" stop-color="#ffa000"/><stop offset="0.9970" stop-color="#ffa000"/></linearGradient>
<rect x="26.20" y="200.20" width="117.10" height="68.65" fill="url(#gb02)"/>
<linearGradient id="gb03" gradientUnits="userSpaceOnUse" x1="26.20" y1="0" x2="143.30" y2="0"><stop offset="0.0030" stop-color="#400000"/><stop offset="0.2805" stop-color="#400000"/><stop offset="0.2865" stop-color="#780000"/><stop offset="0.7186" stop-color="#780000"/><stop offset="0.7246" stop-color="#c00000"/><stop offset="0.8262" stop-color="#c00000"/><stop offset="0.8322" stop-color="#f80000"/><stop offset="0.8817" stop-color="#f80000"/><stop offset="0.8877" stop-color="#ff3800"/><stop offset="0.9287" stop-color="#ff3800"/><stop offset="0.9347" stop-color="#ff6800"/><stop offset="0.9577" stop-color="#ff6800"/><stop offset="0.9637" stop-color="#ff9800"/><stop offset="0.9825" stop-color="#ff9800"/><stop offset="0.9885" stop-color="#ffb800"/><stop offset="0.9970" stop-color="#ffb800"/></linearGradient>
<rect x="26.20" y="213.90" width="117.10" height="54.95" fill="url(#gb03)"/>
<linearGradient id="gb04" gradientUnits="userSpaceOnUse" x1="26.20" y1="0" x2="143.30" y2="0"><stop offset="0.0030" stop-color="#ffff20"/><stop offset="0.4453" stop-color="#ffff20"/><stop offset="0.4513" stop-color="#ffe000"/><stop offset="0.7220" stop-color="#ffe000"/><stop offset="0.7280" stop-color="#ffb000"/><stop offset="0.9970" stop-color="#ffb000"/></linearGradient>
<rect x="26.20" y="227.60" width="117.10" height="41.25" fill="url(#gb04)"/>
<linearGradient id="gb05" gradientUnits="userSpaceOnUse" x1="26.20" y1="0" x2="143.30" y2="0"><stop offset="0.0030" stop-color="#ffffb0"/><stop offset="0.3318" stop-color="#ffffb0"/><stop offset="0.3377" stop-color="#ffff60"/><stop offset="0.4641" stop-color="#ffff60"/><stop offset="0.4701" stop-color="#ffff20"/><stop offset="0.5606" stop-color="#ffff20"/><stop offset="0.5666" stop-color="#ffd000"/><stop offset="0.6477" stop-color="#ffd000"/><stop offset="0.6507" stop-color="#ffd000"/><stop offset="0.6687" stop-color="#ff5000"/><stop offset="0.6687" stop-color="#ff5000"/><stop offset="0.6900" stop-color="#ff1800"/><stop offset="0.6930" stop-color="#ff1000"/><stop offset="0.7067" stop-color="#ff1000"/><stop offset="0.7096" stop-color="#ff1000"/><stop offset="0.7370" stop-color="#b00000"/><stop offset="0.7370" stop-color="#b00000"/><stop offset="0.7609" stop-color="#200000"/><stop offset="0.7639" stop-color="#000000"/><stop offset="0.7827" stop-color="#000000"/><stop offset="0.7857" stop-color="#000000"/><stop offset="0.7942" stop-color="#c00000"/><stop offset="0.7972" stop-color="#f00000"/><stop offset="0.8100" stop-color="#f00000"/><stop offset="0.8160" stop-color="#ffe000"/><stop offset="0.8348" stop-color="#ffe000"/><stop offset="0.8407" stop-color="#ffff20"/><stop offset="0.8698" stop-color="#ffff20"/><stop offset="0.8757" stop-color="#ffff90"/><stop offset="0.8988" stop-color="#ffff90"/><stop offset="0.9048" stop-color="#ffffff"/><stop offset="0.9629" stop-color="#ffffff"/><stop offset="0.9688" stop-color="#ffffa0"/><stop offset="0.9970" stop-color="#ffffa0"/></linearGradient>
<rect x="26.20" y="241.30" width="117.10" height="27.55" fill="url(#gb05)"/>
<linearGradient id="gb06" gradientUnits="userSpaceOnUse" x1="26.20" y1="0" x2="143.30" y2="0"><stop offset="0.0030" stop-color="#ffff20"/><stop offset="0.4829" stop-color="#ffff20"/><stop offset="0.4889" stop-color="#ffff70"/><stop offset="0.6529" stop-color="#ffff70"/><stop offset="0.6588" stop-color="#ffffb0"/><stop offset="0.7724" stop-color="#ffffb0"/><stop offset="0.7784" stop-color="#ffff60"/><stop offset="0.8100" stop-color="#ffff60"/><stop offset="0.8160" stop-color="#ffff20"/><stop offset="0.8612" stop-color="#ffff20"/><stop offset="0.8642" stop-color="#ffff20"/><stop offset="0.8728" stop-color="#ff8000"/><stop offset="0.8728" stop-color="#ff8000"/><stop offset="0.8813" stop-color="#e00000"/><stop offset="0.8813" stop-color="#e00000"/><stop offset="0.8864" stop-color="#200000"/><stop offset="0.8894" stop-color="#000000"/><stop offset="0.8954" stop-color="#000000"/><stop offset="0.8984" stop-color="#000000"/><stop offset="0.9035" stop-color="#e00000"/><stop offset="0.9035" stop-color="#e00000"/><stop offset="0.9120" stop-color="#ff6000"/><stop offset="0.9150" stop-color="#ffe000"/><stop offset="0.9432" stop-color="#ffe000"/><stop offset="0.9492" stop-color="#ffff20"/><stop offset="0.9970" stop-color="#ffff20"/></linearGradient>
<rect x="26.20" y="255.00" width="117.10" height="13.85" fill="url(#gb06)"/>
<path d="M26.20 268.85H143.20V172.60" fill="none" stroke="#222" stroke-width="0.8"/>
<path d="M26.15 269.25V172.05" fill="none" stroke="#000" stroke-width="1.0"/>
<path d="M25.70 172.60H143.60" fill="none" stroke="#000" stroke-width="1.15"/>
<path d="M33.82 172.60v-1.40M33.82 268.85v1.40M39.44 172.60v-1.40M39.44 268.85v1.40M44.03 172.60v-1.40M44.03 268.85v1.40M47.92 172.60v-1.40M47.92 268.85v1.40M51.28 172.60v-1.40M51.28 268.85v1.40M54.25 172.60v-1.40M54.25 268.85v1.40M56.90 172.60v-2.50M56.90 268.85v2.50M74.36 172.60v-1.40M74.36 268.85v1.40M84.57 172.60v-1.40M84.57 268.85v1.40M91.82 172.60v-1.40M91.82 268.85v1.40M97.44 172.60v-1.40M97.44 268.85v1.40M102.03 172.60v-1.40M102.03 268.85v1.40M105.92 172.60v-1.40M105.92 268.85v1.40M109.28 172.60v-1.40M109.28 268.85v1.40M112.25 172.60v-1.40M112.25 268.85v1.40M114.90 172.60v-2.50M114.90 268.85v2.50M132.36 172.60v-1.40M132.36 268.85v1.40M142.57 172.60v-1.40M142.57 268.85v1.40M26.20 186.50h-1.7M143.30 186.50h1.6M26.20 200.20h-1.7M143.30 200.20h1.6M26.20 213.90h-1.7M143.30 213.90h1.6M26.20 227.60h-1.7M143.30 227.60h1.6M26.20 241.30h-1.7M143.30 241.30h1.6M26.20 255.00h-1.7M143.30 255.00h1.6" stroke="#111" stroke-width="0.8" fill="none"/>
<text x="57.80" y="278.90" text-anchor="middle" class="t">1</text>
<text x="116.20" y="278.90" text-anchor="middle" class="t">10</text>
<text x="85.35" y="287.90" text-anchor="middle" class="l">hBN thickness (nm)</text>
<text x="85.15" y="166.90" text-anchor="middle" class="h" style="color:#ff1a1a">Red</text>
<text x="24.50" y="182.55" text-anchor="end" class="t">297</text>
<text x="24.50" y="196.15" text-anchor="end" class="t">280</text>
<text x="24.50" y="209.75" text-anchor="end" class="t">271</text>
<text x="24.50" y="223.35" text-anchor="end" class="t">215</text>
<text x="24.50" y="236.95" text-anchor="end" class="t">150</text>
<text x="24.50" y="250.55" text-anchor="end" class="t">90</text>
<text x="24.50" y="264.15" text-anchor="end" class="t">70</text>
<linearGradient id="gb10" gradientUnits="userSpaceOnUse" x1="148.80" y1="0" x2="265.90" y2="0"><stop offset="0.0030" stop-color="#ffff50"/><stop offset="0.6810" stop-color="#ffff50"/><stop offset="0.6870" stop-color="#ffffa0"/><stop offset="0.9142" stop-color="#ffffa0"/><stop offset="0.9202" stop-color="#ffff50"/><stop offset="0.9970" stop-color="#ffff50"/></linearGradient>
<rect x="148.80" y="172.60" width="117.10" height="96.25" fill="url(#gb10)"/>
<linearGradient id="gb11" gradientUnits="userSpaceOnUse" x1="148.80" y1="0" x2="265.90" y2="0"><stop offset="0.0030" stop-color="#ffffa0"/><stop offset="0.2378" stop-color="#ffffa0"/><stop offset="0.2438" stop-color="#ffff50"/><stop offset="0.4769" stop-color="#ffff50"/><stop offset="0.4829" stop-color="#ffff20"/><stop offset="0.6076" stop-color="#ffff20"/><stop offset="0.6136" stop-color="#ffe000"/><stop offset="0.6845" stop-color="#ffe000"/><stop offset="0.6874" stop-color="#ffe000"/><stop offset="0.7020" stop-color="#ff7000"/><stop offset="0.7020" stop-color="#ff7000"/><stop offset="0.7190" stop-color="#ff1000"/><stop offset="0.7190" stop-color="#ff1000"/><stop offset="0.7293" stop-color="#300000"/><stop offset="0.7323" stop-color="#000000"/><stop offset="0.7502" stop-color="#000000"/><stop offset="0.7532" stop-color="#000000"/><stop offset="0.7617" stop-color="#e00000"/><stop offset="0.7617" stop-color="#e00000"/><stop offset="0.7771" stop-color="#ff3000"/><stop offset="0.7771" stop-color="#ff3000"/><stop offset="0.7822" stop-color="#ffc000"/><stop offset="0.7852" stop-color="#ffd800"/><stop offset="0.8254" stop-color="#ffd800"/><stop offset="0.8313" stop-color="#ffff20"/><stop offset="0.8578" stop-color="#ffff20"/><stop offset="0.8638" stop-color="#ffff60"/><stop offset="0.9048" stop-color="#ffff60"/><stop offset="0.9108" stop-color="#ffff90"/><stop offset="0.9970" stop-color="#ffff90"/></linearGradient>
<rect x="148.80" y="186.50" width="117.10" height="82.35" fill="url(#gb11)"/>
<linearGradient id="gb12" gradientUnits="userSpaceOnUse" x1="148.80" y1="0" x2="265.90" y2="0"><stop offset="0.0030" stop-color="#ffe000"/><stop offset="0.6178" stop-color="#ffe000"/><stop offset="0.6208" stop-color="#ffe000"/><stop offset="0.6379" stop-color="#ffa000"/><stop offset="0.6379" stop-color="#ffa000"/><stop offset="0.6721" stop-color="#ff5000"/><stop offset="0.6721" stop-color="#ff5000"/><stop offset="0.7020" stop-color="#ff1000"/><stop offset="0.7020" stop-color="#ff1000"/><stop offset="0.7156" stop-color="#400000"/><stop offset="0.7186" stop-color="#000000"/><stop offset="0.7314" stop-color="#000000"/><stop offset="0.7344" stop-color="#000000"/><stop offset="0.7430" stop-color="#d00000"/><stop offset="0.7430" stop-color="#d00000"/><stop offset="0.7583" stop-color="#ff3000"/><stop offset="0.7583" stop-color="#ff3000"/><stop offset="0.7635" stop-color="#ffc000"/><stop offset="0.7664" stop-color="#ffe000"/><stop offset="0.7997" stop-color="#ffe000"/><stop offset="0.8057" stop-color="#ffff30"/><stop offset="0.8382" stop-color="#ffff30"/><stop offset="0.8442" stop-color="#ffff90"/><stop offset="0.8698" stop-color="#ffff90"/><stop offset="0.8757" stop-color="#ffffff"/><stop offset="0.9424" stop-color="#ffffff"/><stop offset="0.9483" stop-color="#ffff90"/><stop offset="0.9697" stop-color="#ffff90"/><stop offset="0.9757" stop-color="#ffff30"/><stop offset="0.9970" stop-color="#ffff30"/></linearGradient>
<rect x="148.80" y="200.20" width="117.10" height="68.65" fill="url(#gb12)"/>
<linearGradient id="gb13" gradientUnits="userSpaceOnUse" x1="148.80" y1="0" x2="265.90" y2="0"><stop offset="0.0030" stop-color="#ff7000"/><stop offset="0.1729" stop-color="#ff7000"/><stop offset="0.1789" stop-color="#ff9800"/><stop offset="0.2899" stop-color="#ff9800"/><stop offset="0.2959" stop-color="#ffb000"/><stop offset="0.3642" stop-color="#ffb000"/><stop offset="0.3702" stop-color="#ffe000"/><stop offset="0.7323" stop-color="#ffe000"/><stop offset="0.7383" stop-color="#ffff20"/><stop offset="0.8860" stop-color="#ffff20"/><stop offset="0.8920" stop-color="#ffe000"/><stop offset="0.9970" stop-color="#ffe000"/></linearGradient>
<rect x="148.80" y="213.90" width="117.10" height="54.95" fill="url(#gb13)"/>
<linearGradient id="gb14" gradientUnits="userSpaceOnUse" x1="148.80" y1="0" x2="265.90" y2="0"><stop offset="0.0030" stop-color="#ffb000"/><stop offset="0.4667" stop-color="#ffb000"/><stop offset="0.4727" stop-color="#ff9000"/><stop offset="0.6546" stop-color="#ff9000"/><stop offset="0.6605" stop-color="#ff6800"/><stop offset="0.7528" stop-color="#ff6800"/><stop offset="0.7588" stop-color="#ff4000"/><stop offset="0.8219" stop-color="#ff4000"/><stop offset="0.8279" stop-color="#ff2000"/><stop offset="0.8664" stop-color="#ff2000"/><stop offset="0.8723" stop-color="#f00000"/><stop offset="0.9091" stop-color="#f00000"/><stop offset="0.9150" stop-color="#c00000"/><stop offset="0.9364" stop-color="#c00000"/><stop offset="0.9424" stop-color="#900000"/><stop offset="0.9577" stop-color="#900000"/><stop offset="0.9637" stop-color="#500000"/><stop offset="0.9774" stop-color="#500000"/><stop offset="0.9833" stop-color="#200000"/><stop offset="0.9970" stop-color="#200000"/></linearGradient>
<rect x="148.80" y="227.60" width="117.10" height="41.25" fill="url(#gb14)"/>
<linearGradient id="gb15" gradientUnits="userSpaceOnUse" x1="148.80" y1="0" x2="265.90" y2="0"><stop offset="0.0030" stop-color="#ffff20"/><stop offset="0.1576" stop-color="#ffff20"/><stop offset="0.1635" stop-color="#ffe000"/><stop offset="0.3565" stop-color="#ffe000"/><stop offset="0.3595" stop-color="#ffe000"/><stop offset="0.3732" stop-color="#ff7000"/><stop offset="0.3732" stop-color="#ff7000"/><stop offset="0.3945" stop-color="#ff2000"/><stop offset="0.3945" stop-color="#ff2000"/><stop offset="0.4142" stop-color="#d00000"/><stop offset="0.4142" stop-color="#d00000"/><stop offset="0.4236" stop-color="#200000"/><stop offset="0.4266" stop-color="#000000"/><stop offset="0.4522" stop-color="#000000"/><stop offset="0.4552" stop-color="#000000"/><stop offset="0.4629" stop-color="#d00000"/><stop offset="0.4629" stop-color="#d00000"/><stop offset="0.4842" stop-color="#ff2000"/><stop offset="0.4842" stop-color="#ff2000"/><stop offset="0.4996" stop-color="#ff5000"/><stop offset="0.4996" stop-color="#ff5000"/><stop offset="0.5047" stop-color="#ffc000"/><stop offset="0.5077" stop-color="#ffe000"/><stop offset="0.5717" stop-color="#ffe000"/><stop offset="0.5777" stop-color="#ffff20"/><stop offset="0.6477" stop-color="#ffff20"/><stop offset="0.6537" stop-color="#ffff70"/><stop offset="0.7690" stop-color="#ffff70"/><stop offset="0.7750" stop-color="#ffffb0"/><stop offset="0.7946" stop-color="#ffffb0"/><stop offset="0.8006" stop-color="#ffffff"/><stop offset="0.9048" stop-color="#ffffff"/><stop offset="0.9108" stop-color="#ffffa0"/><stop offset="0.9372" stop-color="#ffffa0"/><stop offset="0.9432" stop-color="#ffff50"/><stop offset="0.9970" stop-color="#ffff50"/></linearGradient>
<rect x="148.80" y="241.30" width="117.10" height="27.55" fill="url(#gb15)"/>
<linearGradient id="gb16" gradientUnits="userSpaceOnUse" x1="148.80" y1="0" x2="265.90" y2="0"><stop offset="0.0030" stop-color="#ffffa0"/><stop offset="0.3941" stop-color="#ffffa0"/><stop offset="0.4001" stop-color="#ffff60"/><stop offset="0.7417" stop-color="#ffff60"/><stop offset="0.7477" stop-color="#ffff20"/><stop offset="0.7630" stop-color="#ffff20"/><stop offset="0.7660" stop-color="#ffff20"/><stop offset="0.7874" stop-color="#ffa000"/><stop offset="0.7874" stop-color="#ffa000"/><stop offset="0.7993" stop-color="#e01000"/><stop offset="0.7993" stop-color="#e01000"/><stop offset="0.8027" stop-color="#200000"/><stop offset="0.8057" stop-color="#000000"/><stop offset="0.8117" stop-color="#000000"/><stop offset="0.8147" stop-color="#000000"/><stop offset="0.8198" stop-color="#e00000"/><stop offset="0.8198" stop-color="#e00000"/><stop offset="0.8284" stop-color="#ff5000"/><stop offset="0.8284" stop-color="#ff5000"/><stop offset="0.8335" stop-color="#ffc000"/><stop offset="0.8365" stop-color="#ffd800"/><stop offset="0.8655" stop-color="#ffd800"/><stop offset="0.8715" stop-color="#ffff20"/><stop offset="0.8860" stop-color="#ffff20"/><stop offset="0.8920" stop-color="#ffff60"/><stop offset="0.9970" stop-color="#ffff60"/></linearGradient>
<rect x="148.80" y="255.00" width="117.10" height="13.85" fill="url(#gb16)"/>
<path d="M148.80 268.85H265.80V172.60" fill="none" stroke="#222" stroke-width="0.8"/>
<path d="M148.75 269.25V172.05" fill="none" stroke="#000" stroke-width="1.0"/>
<path d="M148.30 172.60H266.20" fill="none" stroke="#000" stroke-width="1.15"/>
<path d="M156.42 172.60v-1.40M156.42 268.85v1.40M162.04 172.60v-1.40M162.04 268.85v1.40M166.63 172.60v-1.40M166.63 268.85v1.40M170.52 172.60v-1.40M170.52 268.85v1.40M173.88 172.60v-1.40M173.88 268.85v1.40M176.85 172.60v-1.40M176.85 268.85v1.40M179.50 172.60v-2.50M179.50 268.85v2.50M196.96 172.60v-1.40M196.96 268.85v1.40M207.17 172.60v-1.40M207.17 268.85v1.40M214.42 172.60v-1.40M214.42 268.85v1.40M220.04 172.60v-1.40M220.04 268.85v1.40M224.63 172.60v-1.40M224.63 268.85v1.40M228.52 172.60v-1.40M228.52 268.85v1.40M231.88 172.60v-1.40M231.88 268.85v1.40M234.85 172.60v-1.40M234.85 268.85v1.40M237.50 172.60v-2.50M237.50 268.85v2.50M254.96 172.60v-1.40M254.96 268.85v1.40M265.17 172.60v-1.40M265.17 268.85v1.40M148.80 186.50h-1.7M265.90 186.50h1.6M148.80 200.20h-1.7M265.90 200.20h1.6M148.80 213.90h-1.7M265.90 213.90h1.6M148.80 227.60h-1.7M265.90 227.60h1.6M148.80 241.30h-1.7M265.90 241.30h1.6M148.80 255.00h-1.7M265.90 255.00h1.6" stroke="#111" stroke-width="0.8" fill="none"/>
<text x="180.40" y="278.90" text-anchor="middle" class="t">1</text>
<text x="238.80" y="278.90" text-anchor="middle" class="t">10</text>
<text x="207.95" y="287.90" text-anchor="middle" class="l">hBN thickness (nm)</text>
<text x="207.75" y="166.90" text-anchor="middle" class="h" style="color:#00b050">Green</text>
<linearGradient id="gb20" gradientUnits="userSpaceOnUse" x1="270.80" y1="0" x2="388.20" y2="0"><stop offset="0.0030" stop-color="#ffe000"/><stop offset="0.7815" stop-color="#ffe000"/><stop offset="0.7875" stop-color="#ffb000"/><stop offset="0.8096" stop-color="#ffb000"/><stop offset="0.8156" stop-color="#ff9000"/><stop offset="0.8369" stop-color="#ff9000"/><stop offset="0.8428" stop-color="#ff7000"/><stop offset="0.8650" stop-color="#ff7000"/><stop offset="0.8710" stop-color="#ff5000"/><stop offset="0.8931" stop-color="#ff5000"/><stop offset="0.8991" stop-color="#ff3000"/><stop offset="0.9255" stop-color="#ff3000"/><stop offset="0.9314" stop-color="#ff1000"/><stop offset="0.9578" stop-color="#ff1000"/><stop offset="0.9638" stop-color="#e00000"/><stop offset="0.9817" stop-color="#e00000"/><stop offset="0.9876" stop-color="#b00000"/><stop offset="0.9970" stop-color="#b00000"/></linearGradient>
<rect x="270.80" y="172.60" width="117.40" height="96.25" fill="url(#gb20)"/>
<linearGradient id="gb21" gradientUnits="userSpaceOnUse" x1="270.80" y1="0" x2="388.20" y2="0"><stop offset="0.0030" stop-color="#ffff58"/><stop offset="0.2798" stop-color="#ffff58"/><stop offset="0.2858" stop-color="#ffff20"/><stop offset="0.5021" stop-color="#ffff20"/><stop offset="0.5081" stop-color="#ffe000"/><stop offset="0.7347" stop-color="#ffe000"/><stop offset="0.7406" stop-color="#ffff20"/><stop offset="0.8837" stop-color="#ffff20"/><stop offset="0.8897" stop-color="#ffe000"/><stop offset="0.9970" stop-color="#ffe000"/></linearGradient>
<rect x="270.80" y="186.50" width="117.40" height="82.35" fill="url(#gb21)"/>
<linearGradient id="gb22" gradientUnits="userSpaceOnUse" x1="270.80" y1="0" x2="388.20" y2="0"><stop offset="0.0030" stop-color="#ffff20"/><stop offset="0.9161" stop-color="#ffff20"/><stop offset="0.9221" stop-color="#ffe000"/><stop offset="0.9970" stop-color="#ffe000"/></linearGradient>
<rect x="270.80" y="200.20" width="117.40" height="68.65" fill="url(#gb22)"/>
<linearGradient id="gb23" gradientUnits="userSpaceOnUse" x1="270.80" y1="0" x2="388.20" y2="0"><stop offset="0.0030" stop-color="#ffff20"/><stop offset="0.6188" stop-color="#ffff20"/><stop offset="0.6248" stop-color="#ffd800"/><stop offset="0.7551" stop-color="#ffd800"/><stop offset="0.7581" stop-color="#ffd800"/><stop offset="0.7726" stop-color="#ff8000"/><stop offset="0.7726" stop-color="#ff8000"/><stop offset="0.7939" stop-color="#ff2000"/><stop offset="0.7939" stop-color="#ff2000"/><stop offset="0.8092" stop-color="#d00000"/><stop offset="0.8092" stop-color="#d00000"/><stop offset="0.8160" stop-color="#200000"/><stop offset="0.8190" stop-color="#000000"/><stop offset="0.8386" stop-color="#000000"/><stop offset="0.8416" stop-color="#000000"/><stop offset="0.8484" stop-color="#e00000"/><stop offset="0.8484" stop-color="#e00000"/><stop offset="0.8654" stop-color="#ff3000"/><stop offset="0.8654" stop-color="#ff3000"/><stop offset="0.8790" stop-color="#ffa000"/><stop offset="0.8820" stop-color="#ffe000"/><stop offset="0.9468" stop-color="#ffe000"/><stop offset="0.9527" stop-color="#ffff20"/><stop offset="0.9970" stop-color="#ffff20"/></linearGradient>
<rect x="270.80" y="213.90" width="117.40" height="54.95" fill="url(#gb23)"/>
<linearGradient id="gb24" gradientUnits="userSpaceOnUse" x1="270.80" y1="0" x2="388.20" y2="0"><stop offset="0.0030" stop-color="#ff7000"/><stop offset="0.0813" stop-color="#ff7000"/><stop offset="0.0873" stop-color="#ff4000"/><stop offset="0.2815" stop-color="#ff4000"/><stop offset="0.2875" stop-color="#ff2000"/><stop offset="0.3761" stop-color="#ff2000"/><stop offset="0.3820" stop-color="#f00000"/><stop offset="0.4451" stop-color="#f00000"/><stop offset="0.4510" stop-color="#b00000"/><stop offset="0.5141" stop-color="#b00000"/><stop offset="0.5200" stop-color="#780000"/><stop offset="0.6018" stop-color="#780000"/><stop offset="0.6078" stop-color="#380000"/><stop offset="0.6359" stop-color="#380000"/><stop offset="0.6418" stop-color="#780000"/><stop offset="0.6904" stop-color="#780000"/><stop offset="0.6963" stop-color="#b00000"/><stop offset="0.7219" stop-color="#b00000"/><stop offset="0.7279" stop-color="#f00000"/><stop offset="0.7466" stop-color="#f00000"/><stop offset="0.7526" stop-color="#ff5000"/><stop offset="0.7653" stop-color="#ff5000"/><stop offset="0.7713" stop-color="#ffa000"/><stop offset="0.7841" stop-color="#ffa000"/><stop offset="0.7900" stop-color="#ffe000"/><stop offset="0.9340" stop-color="#ffe000"/><stop offset="0.9399" stop-color="#ffff20"/><stop offset="0.9970" stop-color="#ffff20"/></linearGradient>
<rect x="270.80" y="227.60" width="117.40" height="41.25" fill="url(#gb24)"/>
<linearGradient id="gb25" gradientUnits="userSpaceOnUse" x1="270.80" y1="0" x2="388.20" y2="0"><stop offset="0.0030" stop-color="#ffffb0"/><stop offset="0.4638" stop-color="#ffffb0"/><stop offset="0.4698" stop-color="#ffff60"/><stop offset="0.6231" stop-color="#ffff60"/><stop offset="0.6290" stop-color="#ffff20"/><stop offset="0.7968" stop-color="#ffff20"/><stop offset="0.8028" stop-color="#ffe000"/><stop offset="0.9280" stop-color="#ffe000"/><stop offset="0.9340" stop-color="#ff9000"/><stop offset="0.9527" stop-color="#ff9000"/><stop offset="0.9587" stop-color="#ff4000"/><stop offset="0.9783" stop-color="#ff4000"/><stop offset="0.9842" stop-color="#ff1000"/><stop offset="0.9970" stop-color="#ff1000"/></linearGradient>
<rect x="270.80" y="241.30" width="117.40" height="27.55" fill="url(#gb25)"/>
<linearGradient id="gb26" gradientUnits="userSpaceOnUse" x1="270.80" y1="0" x2="388.20" y2="0"><stop offset="0.0030" stop-color="#ffe000"/><stop offset="0.3258" stop-color="#ffe000"/><stop offset="0.3318" stop-color="#ffff20"/><stop offset="0.5013" stop-color="#ffff20"/><stop offset="0.5072" stop-color="#ffd800"/><stop offset="0.6001" stop-color="#ffd800"/><stop offset="0.6031" stop-color="#ffd800"/><stop offset="0.6116" stop-color="#ff4000"/><stop offset="0.6116" stop-color="#ff4000"/><stop offset="0.6269" stop-color="#d00000"/><stop offset="0.6269" stop-color="#d00000"/><stop offset="0.6312" stop-color="#200000"/><stop offset="0.6342" stop-color="#000000"/><stop offset="0.6427" stop-color="#000000"/><stop offset="0.6457" stop-color="#000000"/><stop offset="0.6508" stop-color="#e00000"/><stop offset="0.6508" stop-color="#e00000"/><stop offset="0.6593" stop-color="#ff4000"/><stop offset="0.6623" stop-color="#ffe000"/><stop offset="0.6819" stop-color="#ffe000"/><stop offset="0.6878" stop-color="#ffff30"/><stop offset="0.7227" stop-color="#ffff30"/><stop offset="0.7287" stop-color="#ffffa0"/><stop offset="0.7551" stop-color="#ffffa0"/><stop offset="0.7611" stop-color="#ffffff"/><stop offset="0.7747" stop-color="#ffffff"/><stop offset="0.7807" stop-color="#ffffa0"/><stop offset="0.8113" stop-color="#ffffa0"/><stop offset="0.8173" stop-color="#ffff50"/><stop offset="0.8616" stop-color="#ffff50"/><stop offset="0.8675" stop-color="#ffffa0"/><stop offset="0.8905" stop-color="#ffffa0"/><stop offset="0.8965" stop-color="#ffffff"/><stop offset="0.9289" stop-color="#ffffff"/><stop offset="0.9348" stop-color="#ffffa0"/><stop offset="0.9612" stop-color="#ffffa0"/><stop offset="0.9672" stop-color="#ffff40"/><stop offset="0.9970" stop-color="#ffff40"/></linearGradient>
<rect x="270.80" y="255.00" width="117.40" height="13.85" fill="url(#gb26)"/>
<path d="M270.80 268.85H388.10V172.60" fill="none" stroke="#222" stroke-width="0.8"/>
<path d="M270.75 269.25V172.05" fill="none" stroke="#000" stroke-width="1.0"/>
<path d="M270.30 172.60H388.50" fill="none" stroke="#000" stroke-width="1.15"/>
<path d="M278.42 172.60v-1.40M278.42 268.85v1.40M284.04 172.60v-1.40M284.04 268.85v1.40M288.63 172.60v-1.40M288.63 268.85v1.40M292.52 172.60v-1.40M292.52 268.85v1.40M295.88 172.60v-1.40M295.88 268.85v1.40M298.85 172.60v-1.40M298.85 268.85v1.40M301.50 172.60v-2.50M301.50 268.85v2.50M318.96 172.60v-1.40M318.96 268.85v1.40M329.17 172.60v-1.40M329.17 268.85v1.40M336.42 172.60v-1.40M336.42 268.85v1.40M342.04 172.60v-1.40M342.04 268.85v1.40M346.63 172.60v-1.40M346.63 268.85v1.40M350.52 172.60v-1.40M350.52 268.85v1.40M353.88 172.60v-1.40M353.88 268.85v1.40M356.85 172.60v-1.40M356.85 268.85v1.40M359.50 172.60v-2.50M359.50 268.85v2.50M376.96 172.60v-1.40M376.96 268.85v1.40M387.17 172.60v-1.40M387.17 268.85v1.40M270.80 186.50h-1.7M388.20 186.50h1.6M270.80 200.20h-1.7M388.20 200.20h1.6M270.80 213.90h-1.7M388.20 213.90h1.6M270.80 227.60h-1.7M388.20 227.60h1.6M270.80 241.30h-1.7M388.20 241.30h1.6M270.80 255.00h-1.7M388.20 255.00h1.6" stroke="#111" stroke-width="0.8" fill="none"/>
<text x="302.40" y="278.90" text-anchor="middle" class="t">1</text>
<text x="360.80" y="278.90" text-anchor="middle" class="t">10</text>
<text x="330.10" y="287.90" text-anchor="middle" class="l">hBN thickness (nm)</text>
<text x="329.90" y="166.90" text-anchor="middle" class="h" style="color:#1a1aff">Blue</text>
<linearGradient id="gb30" gradientUnits="userSpaceOnUse" x1="393.10" y1="0" x2="510.40" y2="0"><stop offset="0.0030" stop-color="#ffb800"/><stop offset="0.2298" stop-color="#ffb800"/><stop offset="0.2357" stop-color="#ffe000"/><stop offset="0.6765" stop-color="#ffe000"/><stop offset="0.6824" stop-color="#ffff20"/><stop offset="0.8529" stop-color="#ffff20"/><stop offset="0.8589" stop-color="#ffff60"/><stop offset="0.9970" stop-color="#ffff60"/></linearGradient>
<rect x="393.10" y="172.60" width="117.30" height="96.25" fill="url(#gb30)"/>
<linearGradient id="gb31" gradientUnits="userSpaceOnUse" x1="393.10" y1="0" x2="510.40" y2="0"><stop offset="0.0030" stop-color="#ffff20"/><stop offset="0.5273" stop-color="#ffff20"/><stop offset="0.5332" stop-color="#ffe000"/><stop offset="0.7319" stop-color="#ffe000"/><stop offset="0.7349" stop-color="#ffe000"/><stop offset="0.7494" stop-color="#ff9000"/><stop offset="0.7494" stop-color="#ff9000"/><stop offset="0.7749" stop-color="#ff3000"/><stop offset="0.7749" stop-color="#ff3000"/><stop offset="0.8048" stop-color="#e00000"/><stop offset="0.8048" stop-color="#e00000"/><stop offset="0.8210" stop-color="#200000"/><stop offset="0.8240" stop-color="#000000"/><stop offset="0.8555" stop-color="#000000"/><stop offset="0.8585" stop-color="#000000"/><stop offset="0.8687" stop-color="#d00000"/><stop offset="0.8687" stop-color="#d00000"/><stop offset="0.8943" stop-color="#ff1800"/><stop offset="0.8943" stop-color="#ff1800"/><stop offset="0.9156" stop-color="#ff5000"/><stop offset="0.9156" stop-color="#ff5000"/><stop offset="0.9267" stop-color="#ffb000"/><stop offset="0.9297" stop-color="#ffd800"/><stop offset="0.9970" stop-color="#ffd800"/></linearGradient>
<rect x="393.10" y="186.50" width="117.30" height="82.35" fill="url(#gb31)"/>
<linearGradient id="gb32" gradientUnits="userSpaceOnUse" x1="393.10" y1="0" x2="510.40" y2="0"><stop offset="0.0030" stop-color="#ffe000"/><stop offset="0.6654" stop-color="#ffe000"/><stop offset="0.6684" stop-color="#ffe000"/><stop offset="0.6854" stop-color="#ff8000"/><stop offset="0.6854" stop-color="#ff8000"/><stop offset="0.7153" stop-color="#ff3000"/><stop offset="0.7153" stop-color="#ff3000"/><stop offset="0.7451" stop-color="#e00000"/><stop offset="0.7451" stop-color="#e00000"/><stop offset="0.7630" stop-color="#200000"/><stop offset="0.7660" stop-color="#000000"/><stop offset="0.7882" stop-color="#000000"/><stop offset="0.7911" stop-color="#000000"/><stop offset="0.7988" stop-color="#d00000"/><stop offset="0.7988" stop-color="#d00000"/><stop offset="0.8133" stop-color="#ff4000"/><stop offset="0.8133" stop-color="#ff4000"/><stop offset="0.8193" stop-color="#ffc000"/><stop offset="0.8223" stop-color="#ffe000"/><stop offset="0.8717" stop-color="#ffe000"/><stop offset="0.8777" stop-color="#ffff20"/><stop offset="0.9646" stop-color="#ffff20"/><stop offset="0.9706" stop-color="#ffe000"/><stop offset="0.9970" stop-color="#ffe000"/></linearGradient>
<rect x="393.10" y="200.20" width="117.30" height="68.65" fill="url(#gb32)"/>
<linearGradient id="gb33" gradientUnits="userSpaceOnUse" x1="393.10" y1="0" x2="510.40" y2="0"><stop offset="0.0030" stop-color="#ff8000"/><stop offset="0.1087" stop-color="#ff8000"/><stop offset="0.1147" stop-color="#ffa000"/><stop offset="0.3321" stop-color="#ffa000"/><stop offset="0.3380" stop-color="#ffc000"/><stop offset="0.4446" stop-color="#ffc000"/><stop offset="0.4506" stop-color="#ffe000"/><stop offset="0.9561" stop-color="#ffe000"/><stop offset="0.9621" stop-color="#ffb000"/><stop offset="0.9791" stop-color="#ffb000"/><stop offset="0.9851" stop-color="#ff8000"/><stop offset="0.9970" stop-color="#ff8000"/></linearGradient>
<rect x="393.10" y="213.90" width="117.30" height="54.95" fill="url(#gb33)"/>
<linearGradient id="gb34" gradientUnits="userSpaceOnUse" x1="393.10" y1="0" x2="510.40" y2="0"><stop offset="0.0030" stop-color="#ffe000"/><stop offset="0.4829" stop-color="#ffe000"/><stop offset="0.4889" stop-color="#ffb800"/><stop offset="0.5767" stop-color="#ffb800"/><stop offset="0.5827" stop-color="#ff8800"/><stop offset="0.6398" stop-color="#ff8800"/><stop offset="0.6458" stop-color="#ff6000"/><stop offset="0.6969" stop-color="#ff6000"/><stop offset="0.7029" stop-color="#ff4000"/><stop offset="0.7464" stop-color="#ff4000"/><stop offset="0.7523" stop-color="#ff2000"/><stop offset="0.7907" stop-color="#ff2000"/><stop offset="0.7967" stop-color="#f00000"/><stop offset="0.8342" stop-color="#f00000"/><stop offset="0.8402" stop-color="#b00000"/><stop offset="0.8973" stop-color="#b00000"/><stop offset="0.9032" stop-color="#700000"/><stop offset="0.9348" stop-color="#700000"/><stop offset="0.9408" stop-color="#300000"/><stop offset="0.9595" stop-color="#300000"/><stop offset="0.9655" stop-color="#000000"/><stop offset="0.9970" stop-color="#000000"/></linearGradient>
<rect x="393.10" y="227.60" width="117.30" height="41.25" fill="url(#gb34)"/>
<linearGradient id="gb35" gradientUnits="userSpaceOnUse" x1="393.10" y1="0" x2="510.40" y2="0"><stop offset="0.0030" stop-color="#ffe000"/><stop offset="0.3491" stop-color="#ffe000"/><stop offset="0.3521" stop-color="#ffe000"/><stop offset="0.3657" stop-color="#ff9000"/><stop offset="0.3657" stop-color="#ff9000"/><stop offset="0.3913" stop-color="#ff3000"/><stop offset="0.3913" stop-color="#ff3000"/><stop offset="0.4297" stop-color="#e00000"/><stop offset="0.4297" stop-color="#e00000"/><stop offset="0.4510" stop-color="#200000"/><stop offset="0.4540" stop-color="#000000"/><stop offset="0.4855" stop-color="#000000"/><stop offset="0.4885" stop-color="#000000"/><stop offset="0.4987" stop-color="#d00000"/><stop offset="0.4987" stop-color="#d00000"/><stop offset="0.5234" stop-color="#ff1800"/><stop offset="0.5234" stop-color="#ff1800"/><stop offset="0.5473" stop-color="#ff5000"/><stop offset="0.5473" stop-color="#ff5000"/><stop offset="0.5618" stop-color="#ffb000"/><stop offset="0.5648" stop-color="#ffd800"/><stop offset="0.6526" stop-color="#ffd800"/><stop offset="0.6586" stop-color="#ffff20"/><stop offset="0.7967" stop-color="#ffff20"/><stop offset="0.8026" stop-color="#ffff80"/><stop offset="0.8154" stop-color="#ffff80"/><stop offset="0.8214" stop-color="#ffffc0"/><stop offset="0.9348" stop-color="#ffffc0"/><stop offset="0.9408" stop-color="#ffff60"/><stop offset="0.9970" stop-color="#ffff60"/></linearGradient>
<rect x="393.10" y="241.30" width="117.30" height="27.55" fill="url(#gb35)"/>
<linearGradient id="gb36" gradientUnits="userSpaceOnUse" x1="393.10" y1="0" x2="510.40" y2="0"><stop offset="0.0030" stop-color="#ffff60"/><stop offset="0.7165" stop-color="#ffff60"/><stop offset="0.7225" stop-color="#ffff20"/><stop offset="0.7549" stop-color="#ffff20"/><stop offset="0.7609" stop-color="#ffd000"/><stop offset="0.7907" stop-color="#ffd000"/><stop offset="0.7937" stop-color="#ffd000"/><stop offset="0.8022" stop-color="#ff3000"/><stop offset="0.8022" stop-color="#ff3000"/><stop offset="0.8090" stop-color="#c00000"/><stop offset="0.8120" stop-color="#000000"/><stop offset="0.8248" stop-color="#000000"/><stop offset="0.8278" stop-color="#000000"/><stop offset="0.8329" stop-color="#e00000"/><stop offset="0.8329" stop-color="#e00000"/><stop offset="0.8414" stop-color="#ff4000"/><stop offset="0.8444" stop-color="#ffd000"/><stop offset="0.8640" stop-color="#ffd000"/><stop offset="0.8700" stop-color="#ffff20"/><stop offset="0.8896" stop-color="#ffff20"/><stop offset="0.8956" stop-color="#ffff60"/><stop offset="0.9970" stop-color="#ffff60"/></linearGradient>
<rect x="393.10" y="255.00" width="117.30" height="13.85" fill="url(#gb36)"/>
<path d="M393.10 268.85H510.30V172.60" fill="none" stroke="#222" stroke-width="0.8"/>
<path d="M393.05 269.25V172.05" fill="none" stroke="#000" stroke-width="1.0"/>
<path d="M392.60 172.60H510.70" fill="none" stroke="#000" stroke-width="1.15"/>
<path d="M400.72 172.60v-1.40M400.72 268.85v1.40M406.34 172.60v-1.40M406.34 268.85v1.40M410.93 172.60v-1.40M410.93 268.85v1.40M414.82 172.60v-1.40M414.82 268.85v1.40M418.18 172.60v-1.40M418.18 268.85v1.40M421.15 172.60v-1.40M421.15 268.85v1.40M423.80 172.60v-2.50M423.80 268.85v2.50M441.26 172.60v-1.40M441.26 268.85v1.40M451.47 172.60v-1.40M451.47 268.85v1.40M458.72 172.60v-1.40M458.72 268.85v1.40M464.34 172.60v-1.40M464.34 268.85v1.40M468.93 172.60v-1.40M468.93 268.85v1.40M472.82 172.60v-1.40M472.82 268.85v1.40M476.18 172.60v-1.40M476.18 268.85v1.40M479.15 172.60v-1.40M479.15 268.85v1.40M481.80 172.60v-2.50M481.80 268.85v2.50M499.26 172.60v-1.40M499.26 268.85v1.40M509.47 172.60v-1.40M509.47 268.85v1.40M393.10 186.50h-1.7M510.40 186.50h1.6M393.10 200.20h-1.7M510.40 200.20h1.6M393.10 213.90h-1.7M510.40 213.90h1.6M393.10 227.60h-1.7M510.40 227.60h1.6M393.10 241.30h-1.7M510.40 241.30h1.6M393.10 255.00h-1.7M510.40 255.00h1.6" stroke="#111" stroke-width="0.8" fill="none"/>
<text x="424.70" y="278.90" text-anchor="middle" class="t">1</text>
<text x="483.10" y="278.90" text-anchor="middle" class="t">10</text>
<text x="452.35" y="287.90" text-anchor="middle" class="l">hBN thickness (nm)</text>
<text x="452.15" y="166.90" text-anchor="middle" class="h" style="color:#333">Grey</text>
<text x="267.4" y="159.45" text-anchor="middle" class="h">(b) Derivative</text>
<text transform="translate(8.4 222.60) rotate(-90)" text-anchor="middle" class="l">SiO<tspan dy="3.2" style="font-size:4.6px">2</tspan><tspan dy="-3.2"> thickness (nm)</tspan></text>
<g>
<rect x="517.30" y="182.40" width="11.00" height="4.87" fill="#ffff99"/>
<rect x="517.30" y="187.08" width="11.00" height="4.87" fill="#ffff53"/>
<rect x="517.30" y="191.75" width="11.00" height="4.87" fill="#ffff13"/>
<rect x="517.30" y="196.43" width="11.00" height="4.87" fill="#ffff00"/>
<rect x="517.30" y="201.10" width="11.00" height="4.87" fill="#ffd400"/>
<rect x="517.30" y="205.78" width="11.00" height="4.87" fill="#ffaa00"/>
<rect x="517.30" y="210.45" width="11.00" height="4.87" fill="#ff8000"/>
<rect x="517.30" y="215.12" width="11.00" height="4.87" fill="#ff5d00"/>
<rect x="517.30" y="219.80" width="11.00" height="4.87" fill="#ff4000"/>
<rect x="517.30" y="224.47" width="11.00" height="4.87" fill="#ff1e00"/>
<rect x="517.30" y="229.15" width="11.00" height="4.87" fill="#ff0000"/>
<rect x="517.30" y="233.82" width="11.00" height="4.87" fill="#d40000"/>
<rect x="517.30" y="238.50" width="11.00" height="4.87" fill="#aa0000"/>
<rect x="517.30" y="243.17" width="11.00" height="4.87" fill="#770000"/>
<rect x="517.30" y="247.85" width="11.00" height="4.87" fill="#3b0000"/>
<rect x="517.30" y="252.52" width="11.00" height="4.87" fill="#000000"/>
</g>
<text x="531.0" y="179.30" class="c">0.060</text>
<text x="531.0" y="188.78" class="c">0.040</text>
<text x="531.0" y="198.25" class="c">0.020</text>
<text x="531.0" y="207.72" class="c">0.009</text>
<text x="531.0" y="217.20" class="c">0.008</text>
<text x="531.0" y="226.68" class="c">0.007</text>
<text x="531.0" y="236.15" class="c">0.005</text>
<text x="531.0" y="245.62" class="c">0.003</text>
<text x="531.0" y="255.10" class="c">0.001</text>
<text x="517.8" y="266.00" class="c">|D<tspan dy="1.3" style="font-size:4.4px">X</tspan><tspan dy="-1.3">|</tspan></text>
</svg></body></html>
